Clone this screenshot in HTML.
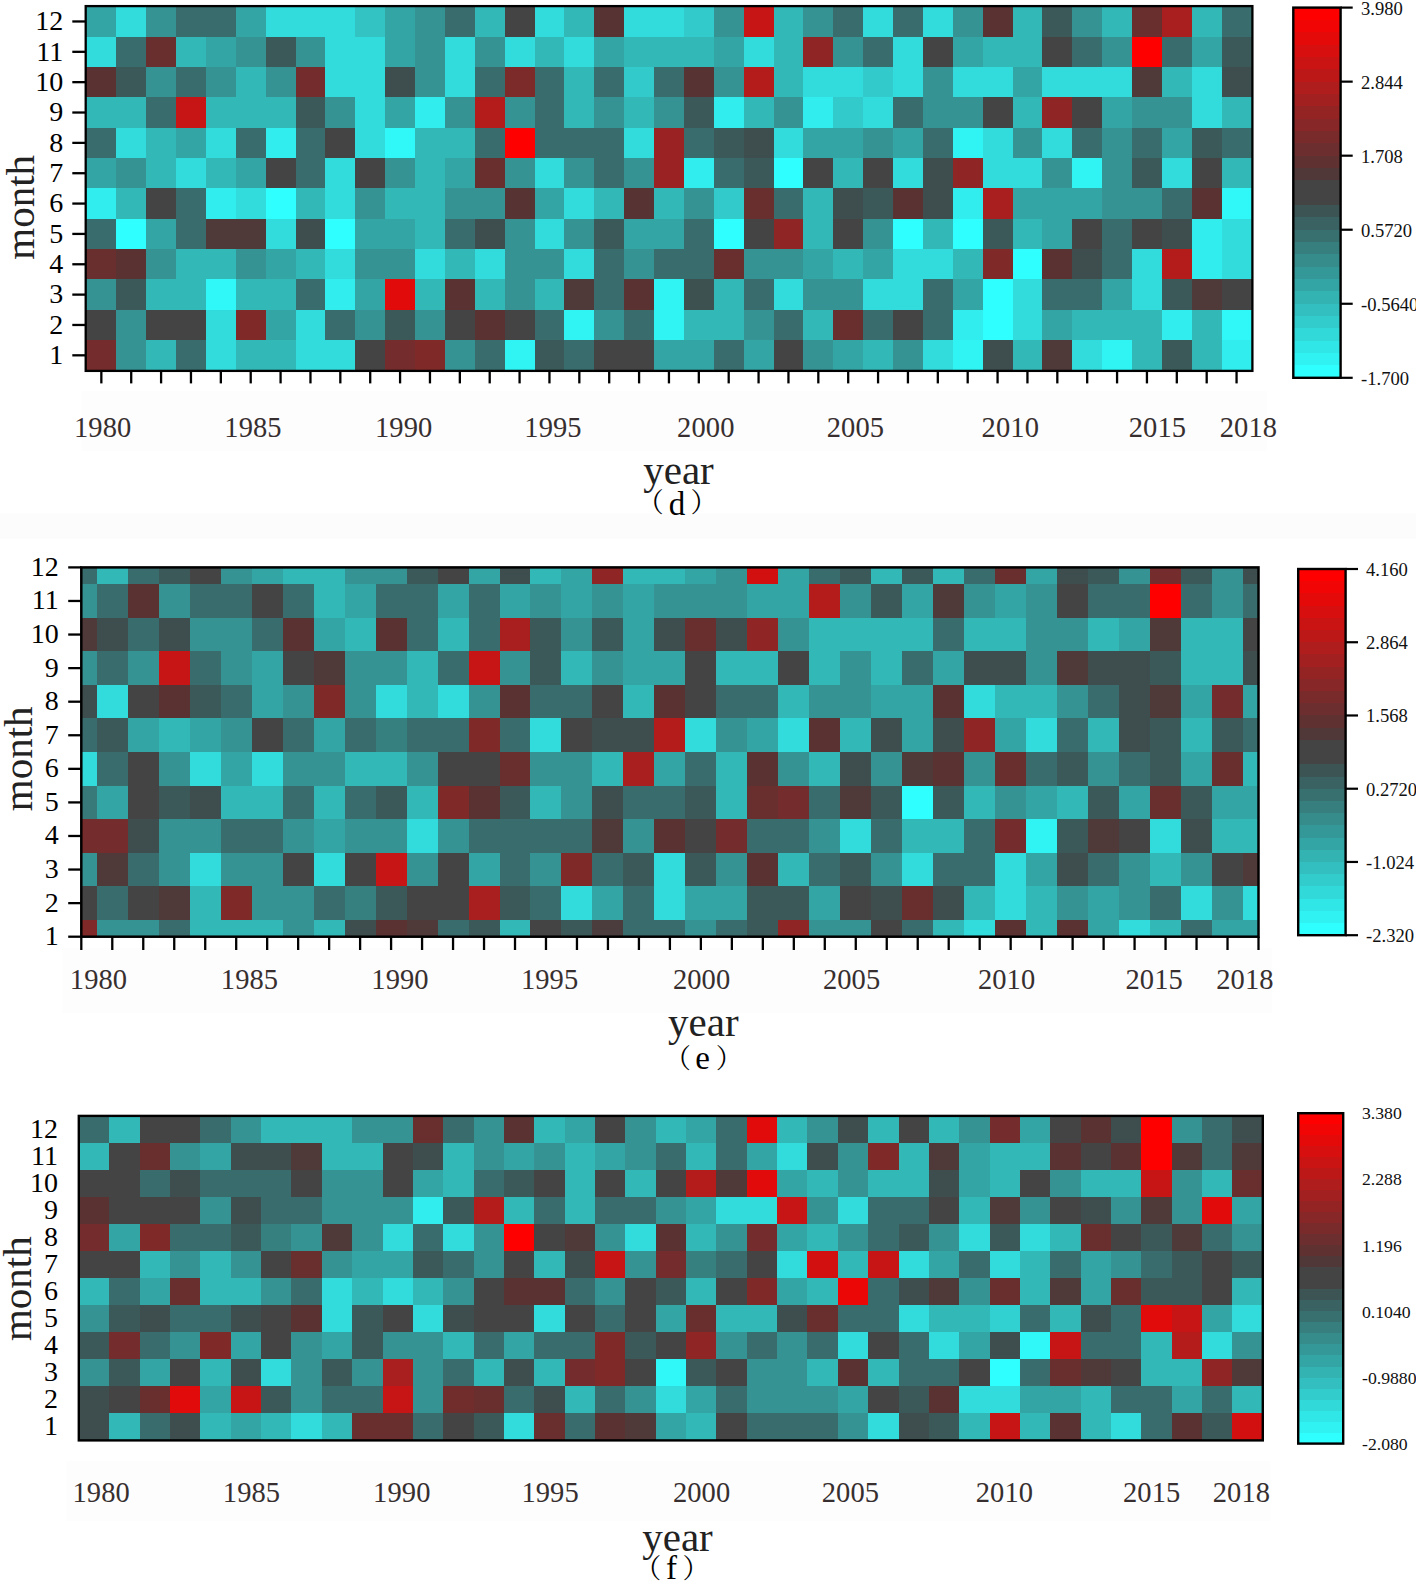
<!DOCTYPE html>
<html><head><meta charset="utf-8"><title>heatmaps</title>
<style>
html,body{margin:0;padding:0;background:#fff;}
svg{display:block}
text{font-family:"Liberation Serif","Noto Serif CJK SC",serif;}
.yt{font-size:28px;fill:#000;text-anchor:end}
.yte{font-size:28px;fill:#000;text-anchor:end}
.ytf{font-size:28px;fill:#000;text-anchor:end}
.xt{font-size:28.5px;fill:#372f2f;text-anchor:middle;letter-spacing:0.1px}
.ax{font-size:41px;fill:#222}
.cap{font-size:33px;fill:#000}
.par{font-size:27px;fill:#000}
.cb{font-size:18.6px;fill:#111}
.cbf{font-size:17.7px;fill:#111}
</style></head><body>
<svg width="1416" height="1582" viewBox="0 0 1416 1582">
<rect width="1416" height="1582" fill="#fff"/>

<rect x="82" y="391" width="1185" height="60" fill="#fdfdfd"/>
<rect x="62" y="948" width="1210" height="65" fill="#fdfdfd"/>
<rect x="66.6" y="1461" width="1203.4" height="60" fill="#fdfdfd"/>
<rect x="0" y="513.5" width="1416" height="25.5" fill="#fcfcfc"/>
<g shape-rendering="crispEdges">
<rect x="86.4" y="6.3" width="30.47" height="30.95" fill="#34a5a5"/>
<rect x="116.27" y="6.3" width="30.47" height="30.95" fill="#32dcdc"/>
<rect x="146.15" y="6.3" width="30.47" height="30.95" fill="#359393"/>
<rect x="176.02" y="6.3" width="30.47" height="30.95" fill="#396d6d"/>
<rect x="205.9" y="6.3" width="30.47" height="30.95" fill="#396d6d"/>
<rect x="235.77" y="6.3" width="30.47" height="30.95" fill="#34a5a5"/>
<rect x="265.65" y="6.3" width="30.47" height="30.95" fill="#32dcdc"/>
<rect x="295.52" y="6.3" width="30.47" height="30.95" fill="#32dcdc"/>
<rect x="325.39" y="6.3" width="30.47" height="30.95" fill="#32dcdc"/>
<rect x="355.27" y="6.3" width="30.47" height="30.95" fill="#33c3c3"/>
<rect x="385.14" y="6.3" width="30.47" height="30.95" fill="#34a5a5"/>
<rect x="415.02" y="6.3" width="30.47" height="30.95" fill="#359393"/>
<rect x="444.89" y="6.3" width="30.47" height="30.95" fill="#396d6d"/>
<rect x="474.77" y="6.3" width="30.47" height="30.95" fill="#33b8b8"/>
<rect x="504.64" y="6.3" width="30.47" height="30.95" fill="#444444"/>
<rect x="534.52" y="6.3" width="30.47" height="30.95" fill="#32dcdc"/>
<rect x="564.39" y="6.3" width="30.47" height="30.95" fill="#33b8b8"/>
<rect x="594.26" y="6.3" width="30.47" height="30.95" fill="#573333"/>
<rect x="624.14" y="6.3" width="30.47" height="30.95" fill="#32dcdc"/>
<rect x="654.01" y="6.3" width="30.47" height="30.95" fill="#32dcdc"/>
<rect x="683.89" y="6.3" width="30.47" height="30.95" fill="#32caca"/>
<rect x="713.76" y="6.3" width="30.47" height="30.95" fill="#359393"/>
<rect x="743.64" y="6.3" width="30.47" height="30.95" fill="#c71414"/>
<rect x="773.51" y="6.3" width="30.47" height="30.95" fill="#33b8b8"/>
<rect x="803.38" y="6.3" width="30.47" height="30.95" fill="#359393"/>
<rect x="833.26" y="6.3" width="30.47" height="30.95" fill="#396d6d"/>
<rect x="863.13" y="6.3" width="30.47" height="30.95" fill="#32dcdc"/>
<rect x="893.01" y="6.3" width="30.47" height="30.95" fill="#396d6d"/>
<rect x="922.88" y="6.3" width="30.47" height="30.95" fill="#32dcdc"/>
<rect x="952.76" y="6.3" width="30.47" height="30.95" fill="#359393"/>
<rect x="982.63" y="6.3" width="30.47" height="30.95" fill="#5a3232"/>
<rect x="1012.51" y="6.3" width="30.47" height="30.95" fill="#33b8b8"/>
<rect x="1042.38" y="6.3" width="30.47" height="30.95" fill="#3b5959"/>
<rect x="1072.25" y="6.3" width="30.47" height="30.95" fill="#359393"/>
<rect x="1102.13" y="6.3" width="30.47" height="30.95" fill="#33b8b8"/>
<rect x="1132" y="6.3" width="30.47" height="30.95" fill="#692e2e"/>
<rect x="1161.88" y="6.3" width="30.47" height="30.95" fill="#a91e1e"/>
<rect x="1191.75" y="6.3" width="30.47" height="30.95" fill="#33b8b8"/>
<rect x="1221.63" y="6.3" width="30.47" height="30.95" fill="#396d6d"/>
<rect x="86.4" y="36.65" width="30.47" height="30.95" fill="#32dcdc"/>
<rect x="116.27" y="36.65" width="30.47" height="30.95" fill="#396d6d"/>
<rect x="146.15" y="36.65" width="30.47" height="30.95" fill="#692e2e"/>
<rect x="176.02" y="36.65" width="30.47" height="30.95" fill="#33b8b8"/>
<rect x="205.9" y="36.65" width="30.47" height="30.95" fill="#34a5a5"/>
<rect x="235.77" y="36.65" width="30.47" height="30.95" fill="#359393"/>
<rect x="265.65" y="36.65" width="30.47" height="30.95" fill="#3b5959"/>
<rect x="295.52" y="36.65" width="30.47" height="30.95" fill="#359393"/>
<rect x="325.39" y="36.65" width="30.47" height="30.95" fill="#32dcdc"/>
<rect x="355.27" y="36.65" width="30.47" height="30.95" fill="#32dcdc"/>
<rect x="385.14" y="36.65" width="30.47" height="30.95" fill="#34a5a5"/>
<rect x="415.02" y="36.65" width="30.47" height="30.95" fill="#359393"/>
<rect x="444.89" y="36.65" width="30.47" height="30.95" fill="#32dcdc"/>
<rect x="474.77" y="36.65" width="30.47" height="30.95" fill="#359393"/>
<rect x="504.64" y="36.65" width="30.47" height="30.95" fill="#32dcdc"/>
<rect x="534.52" y="36.65" width="30.47" height="30.95" fill="#33b8b8"/>
<rect x="564.39" y="36.65" width="30.47" height="30.95" fill="#32dcdc"/>
<rect x="594.26" y="36.65" width="30.47" height="30.95" fill="#34a5a5"/>
<rect x="624.14" y="36.65" width="30.47" height="30.95" fill="#33b8b8"/>
<rect x="654.01" y="36.65" width="30.47" height="30.95" fill="#33b8b8"/>
<rect x="683.89" y="36.65" width="30.47" height="30.95" fill="#33b8b8"/>
<rect x="713.76" y="36.65" width="30.47" height="30.95" fill="#34a5a5"/>
<rect x="743.64" y="36.65" width="30.47" height="30.95" fill="#32dcdc"/>
<rect x="773.51" y="36.65" width="30.47" height="30.95" fill="#33b8b8"/>
<rect x="803.38" y="36.65" width="30.47" height="30.95" fill="#8f2525"/>
<rect x="833.26" y="36.65" width="30.47" height="30.95" fill="#359393"/>
<rect x="863.13" y="36.65" width="30.47" height="30.95" fill="#396d6d"/>
<rect x="893.01" y="36.65" width="30.47" height="30.95" fill="#32dcdc"/>
<rect x="922.88" y="36.65" width="30.47" height="30.95" fill="#444444"/>
<rect x="952.76" y="36.65" width="30.47" height="30.95" fill="#34a5a5"/>
<rect x="982.63" y="36.65" width="30.47" height="30.95" fill="#33b8b8"/>
<rect x="1012.51" y="36.65" width="30.47" height="30.95" fill="#33b8b8"/>
<rect x="1042.38" y="36.65" width="30.47" height="30.95" fill="#444444"/>
<rect x="1072.25" y="36.65" width="30.47" height="30.95" fill="#396d6d"/>
<rect x="1102.13" y="36.65" width="30.47" height="30.95" fill="#359393"/>
<rect x="1132" y="36.65" width="30.47" height="30.95" fill="#ff0000"/>
<rect x="1161.88" y="36.65" width="30.47" height="30.95" fill="#396d6d"/>
<rect x="1191.75" y="36.65" width="30.47" height="30.95" fill="#34a5a5"/>
<rect x="1221.63" y="36.65" width="30.47" height="30.95" fill="#3b5959"/>
<rect x="86.4" y="67" width="30.47" height="30.95" fill="#5a3232"/>
<rect x="116.27" y="67" width="30.47" height="30.95" fill="#3b5959"/>
<rect x="146.15" y="67" width="30.47" height="30.95" fill="#359393"/>
<rect x="176.02" y="67" width="30.47" height="30.95" fill="#396d6d"/>
<rect x="205.9" y="67" width="30.47" height="30.95" fill="#359393"/>
<rect x="235.77" y="67" width="30.47" height="30.95" fill="#33b8b8"/>
<rect x="265.65" y="67" width="30.47" height="30.95" fill="#359393"/>
<rect x="295.52" y="67" width="30.47" height="30.95" fill="#752c2c"/>
<rect x="325.39" y="67" width="30.47" height="30.95" fill="#32dcdc"/>
<rect x="355.27" y="67" width="30.47" height="30.95" fill="#32dcdc"/>
<rect x="385.14" y="67" width="30.47" height="30.95" fill="#3e4d4d"/>
<rect x="415.02" y="67" width="30.47" height="30.95" fill="#359393"/>
<rect x="444.89" y="67" width="30.47" height="30.95" fill="#32dcdc"/>
<rect x="474.77" y="67" width="30.47" height="30.95" fill="#396d6d"/>
<rect x="504.64" y="67" width="30.47" height="30.95" fill="#7c2a2a"/>
<rect x="534.52" y="67" width="30.47" height="30.95" fill="#396d6d"/>
<rect x="564.39" y="67" width="30.47" height="30.95" fill="#33b8b8"/>
<rect x="594.26" y="67" width="30.47" height="30.95" fill="#396d6d"/>
<rect x="624.14" y="67" width="30.47" height="30.95" fill="#32caca"/>
<rect x="654.01" y="67" width="30.47" height="30.95" fill="#396d6d"/>
<rect x="683.89" y="67" width="30.47" height="30.95" fill="#573333"/>
<rect x="713.76" y="67" width="30.47" height="30.95" fill="#359393"/>
<rect x="743.64" y="67" width="30.47" height="30.95" fill="#b41b1b"/>
<rect x="773.51" y="67" width="30.47" height="30.95" fill="#33b8b8"/>
<rect x="803.38" y="67" width="30.47" height="30.95" fill="#32dcdc"/>
<rect x="833.26" y="67" width="30.47" height="30.95" fill="#32dcdc"/>
<rect x="863.13" y="67" width="30.47" height="30.95" fill="#32caca"/>
<rect x="893.01" y="67" width="30.47" height="30.95" fill="#32dcdc"/>
<rect x="922.88" y="67" width="30.47" height="30.95" fill="#359393"/>
<rect x="952.76" y="67" width="30.47" height="30.95" fill="#32dcdc"/>
<rect x="982.63" y="67" width="30.47" height="30.95" fill="#32dcdc"/>
<rect x="1012.51" y="67" width="30.47" height="30.95" fill="#34a5a5"/>
<rect x="1042.38" y="67" width="30.47" height="30.95" fill="#32dcdc"/>
<rect x="1072.25" y="67" width="30.47" height="30.95" fill="#32dcdc"/>
<rect x="1102.13" y="67" width="30.47" height="30.95" fill="#32dcdc"/>
<rect x="1132" y="67" width="30.47" height="30.95" fill="#4f3939"/>
<rect x="1161.88" y="67" width="30.47" height="30.95" fill="#33b8b8"/>
<rect x="1191.75" y="67" width="30.47" height="30.95" fill="#32dcdc"/>
<rect x="1221.63" y="67" width="30.47" height="30.95" fill="#3e4d4d"/>
<rect x="86.4" y="97.35" width="30.47" height="30.95" fill="#33b8b8"/>
<rect x="116.27" y="97.35" width="30.47" height="30.95" fill="#33b8b8"/>
<rect x="146.15" y="97.35" width="30.47" height="30.95" fill="#396d6d"/>
<rect x="176.02" y="97.35" width="30.47" height="30.95" fill="#c71414"/>
<rect x="205.9" y="97.35" width="30.47" height="30.95" fill="#33b8b8"/>
<rect x="235.77" y="97.35" width="30.47" height="30.95" fill="#33b8b8"/>
<rect x="265.65" y="97.35" width="30.47" height="30.95" fill="#33b8b8"/>
<rect x="295.52" y="97.35" width="30.47" height="30.95" fill="#3b5959"/>
<rect x="325.39" y="97.35" width="30.47" height="30.95" fill="#359393"/>
<rect x="355.27" y="97.35" width="30.47" height="30.95" fill="#32dcdc"/>
<rect x="385.14" y="97.35" width="30.47" height="30.95" fill="#34a5a5"/>
<rect x="415.02" y="97.35" width="30.47" height="30.95" fill="#31eded"/>
<rect x="444.89" y="97.35" width="30.47" height="30.95" fill="#359393"/>
<rect x="474.77" y="97.35" width="30.47" height="30.95" fill="#b41b1b"/>
<rect x="504.64" y="97.35" width="30.47" height="30.95" fill="#359393"/>
<rect x="534.52" y="97.35" width="30.47" height="30.95" fill="#396d6d"/>
<rect x="564.39" y="97.35" width="30.47" height="30.95" fill="#33b8b8"/>
<rect x="594.26" y="97.35" width="30.47" height="30.95" fill="#359393"/>
<rect x="624.14" y="97.35" width="30.47" height="30.95" fill="#33b8b8"/>
<rect x="654.01" y="97.35" width="30.47" height="30.95" fill="#359393"/>
<rect x="683.89" y="97.35" width="30.47" height="30.95" fill="#3b5959"/>
<rect x="713.76" y="97.35" width="30.47" height="30.95" fill="#31eded"/>
<rect x="743.64" y="97.35" width="30.47" height="30.95" fill="#33b8b8"/>
<rect x="773.51" y="97.35" width="30.47" height="30.95" fill="#359393"/>
<rect x="803.38" y="97.35" width="30.47" height="30.95" fill="#31eded"/>
<rect x="833.26" y="97.35" width="30.47" height="30.95" fill="#32caca"/>
<rect x="863.13" y="97.35" width="30.47" height="30.95" fill="#32dcdc"/>
<rect x="893.01" y="97.35" width="30.47" height="30.95" fill="#396d6d"/>
<rect x="922.88" y="97.35" width="30.47" height="30.95" fill="#359393"/>
<rect x="952.76" y="97.35" width="30.47" height="30.95" fill="#359393"/>
<rect x="982.63" y="97.35" width="30.47" height="30.95" fill="#444444"/>
<rect x="1012.51" y="97.35" width="30.47" height="30.95" fill="#33b8b8"/>
<rect x="1042.38" y="97.35" width="30.47" height="30.95" fill="#8f2525"/>
<rect x="1072.25" y="97.35" width="30.47" height="30.95" fill="#444444"/>
<rect x="1102.13" y="97.35" width="30.47" height="30.95" fill="#34a5a5"/>
<rect x="1132" y="97.35" width="30.47" height="30.95" fill="#359393"/>
<rect x="1161.88" y="97.35" width="30.47" height="30.95" fill="#359393"/>
<rect x="1191.75" y="97.35" width="30.47" height="30.95" fill="#32dcdc"/>
<rect x="1221.63" y="97.35" width="30.47" height="30.95" fill="#33b8b8"/>
<rect x="86.4" y="127.7" width="30.47" height="30.95" fill="#396d6d"/>
<rect x="116.27" y="127.7" width="30.47" height="30.95" fill="#32dcdc"/>
<rect x="146.15" y="127.7" width="30.47" height="30.95" fill="#33b8b8"/>
<rect x="176.02" y="127.7" width="30.47" height="30.95" fill="#34a5a5"/>
<rect x="205.9" y="127.7" width="30.47" height="30.95" fill="#32dcdc"/>
<rect x="235.77" y="127.7" width="30.47" height="30.95" fill="#396d6d"/>
<rect x="265.65" y="127.7" width="30.47" height="30.95" fill="#31eded"/>
<rect x="295.52" y="127.7" width="30.47" height="30.95" fill="#396d6d"/>
<rect x="325.39" y="127.7" width="30.47" height="30.95" fill="#444444"/>
<rect x="355.27" y="127.7" width="30.47" height="30.95" fill="#32dcdc"/>
<rect x="385.14" y="127.7" width="30.47" height="30.95" fill="#30f8f8"/>
<rect x="415.02" y="127.7" width="30.47" height="30.95" fill="#33b8b8"/>
<rect x="444.89" y="127.7" width="30.47" height="30.95" fill="#33b8b8"/>
<rect x="474.77" y="127.7" width="30.47" height="30.95" fill="#396d6d"/>
<rect x="504.64" y="127.7" width="30.47" height="30.95" fill="#ff0000"/>
<rect x="534.52" y="127.7" width="30.47" height="30.95" fill="#396d6d"/>
<rect x="564.39" y="127.7" width="30.47" height="30.95" fill="#396d6d"/>
<rect x="594.26" y="127.7" width="30.47" height="30.95" fill="#396d6d"/>
<rect x="624.14" y="127.7" width="30.47" height="30.95" fill="#32dcdc"/>
<rect x="654.01" y="127.7" width="30.47" height="30.95" fill="#9a2222"/>
<rect x="683.89" y="127.7" width="30.47" height="30.95" fill="#396d6d"/>
<rect x="713.76" y="127.7" width="30.47" height="30.95" fill="#3b5959"/>
<rect x="743.64" y="127.7" width="30.47" height="30.95" fill="#3e4d4d"/>
<rect x="773.51" y="127.7" width="30.47" height="30.95" fill="#32dcdc"/>
<rect x="803.38" y="127.7" width="30.47" height="30.95" fill="#34a5a5"/>
<rect x="833.26" y="127.7" width="30.47" height="30.95" fill="#34a5a5"/>
<rect x="863.13" y="127.7" width="30.47" height="30.95" fill="#359393"/>
<rect x="893.01" y="127.7" width="30.47" height="30.95" fill="#34a5a5"/>
<rect x="922.88" y="127.7" width="30.47" height="30.95" fill="#396d6d"/>
<rect x="952.76" y="127.7" width="30.47" height="30.95" fill="#30f4f4"/>
<rect x="982.63" y="127.7" width="30.47" height="30.95" fill="#32dcdc"/>
<rect x="1012.51" y="127.7" width="30.47" height="30.95" fill="#359393"/>
<rect x="1042.38" y="127.7" width="30.47" height="30.95" fill="#32dcdc"/>
<rect x="1072.25" y="127.7" width="30.47" height="30.95" fill="#396d6d"/>
<rect x="1102.13" y="127.7" width="30.47" height="30.95" fill="#359393"/>
<rect x="1132" y="127.7" width="30.47" height="30.95" fill="#396d6d"/>
<rect x="1161.88" y="127.7" width="30.47" height="30.95" fill="#34a5a5"/>
<rect x="1191.75" y="127.7" width="30.47" height="30.95" fill="#3b5959"/>
<rect x="1221.63" y="127.7" width="30.47" height="30.95" fill="#396d6d"/>
<rect x="86.4" y="158.05" width="30.47" height="30.95" fill="#34a5a5"/>
<rect x="116.27" y="158.05" width="30.47" height="30.95" fill="#359393"/>
<rect x="146.15" y="158.05" width="30.47" height="30.95" fill="#33b8b8"/>
<rect x="176.02" y="158.05" width="30.47" height="30.95" fill="#32dcdc"/>
<rect x="205.9" y="158.05" width="30.47" height="30.95" fill="#33b8b8"/>
<rect x="235.77" y="158.05" width="30.47" height="30.95" fill="#34a5a5"/>
<rect x="265.65" y="158.05" width="30.47" height="30.95" fill="#444444"/>
<rect x="295.52" y="158.05" width="30.47" height="30.95" fill="#396d6d"/>
<rect x="325.39" y="158.05" width="30.47" height="30.95" fill="#32dcdc"/>
<rect x="355.27" y="158.05" width="30.47" height="30.95" fill="#444444"/>
<rect x="385.14" y="158.05" width="30.47" height="30.95" fill="#359393"/>
<rect x="415.02" y="158.05" width="30.47" height="30.95" fill="#33b8b8"/>
<rect x="444.89" y="158.05" width="30.47" height="30.95" fill="#34a5a5"/>
<rect x="474.77" y="158.05" width="30.47" height="30.95" fill="#692e2e"/>
<rect x="504.64" y="158.05" width="30.47" height="30.95" fill="#359393"/>
<rect x="534.52" y="158.05" width="30.47" height="30.95" fill="#32dcdc"/>
<rect x="564.39" y="158.05" width="30.47" height="30.95" fill="#359393"/>
<rect x="594.26" y="158.05" width="30.47" height="30.95" fill="#396d6d"/>
<rect x="624.14" y="158.05" width="30.47" height="30.95" fill="#359393"/>
<rect x="654.01" y="158.05" width="30.47" height="30.95" fill="#9a2222"/>
<rect x="683.89" y="158.05" width="30.47" height="30.95" fill="#31eded"/>
<rect x="713.76" y="158.05" width="30.47" height="30.95" fill="#396d6d"/>
<rect x="743.64" y="158.05" width="30.47" height="30.95" fill="#3b5959"/>
<rect x="773.51" y="158.05" width="30.47" height="30.95" fill="#30ffff"/>
<rect x="803.38" y="158.05" width="30.47" height="30.95" fill="#444444"/>
<rect x="833.26" y="158.05" width="30.47" height="30.95" fill="#33b8b8"/>
<rect x="863.13" y="158.05" width="30.47" height="30.95" fill="#444444"/>
<rect x="893.01" y="158.05" width="30.47" height="30.95" fill="#32dcdc"/>
<rect x="922.88" y="158.05" width="30.47" height="30.95" fill="#3e4d4d"/>
<rect x="952.76" y="158.05" width="30.47" height="30.95" fill="#8f2525"/>
<rect x="982.63" y="158.05" width="30.47" height="30.95" fill="#32dcdc"/>
<rect x="1012.51" y="158.05" width="30.47" height="30.95" fill="#32dcdc"/>
<rect x="1042.38" y="158.05" width="30.47" height="30.95" fill="#359393"/>
<rect x="1072.25" y="158.05" width="30.47" height="30.95" fill="#30f4f4"/>
<rect x="1102.13" y="158.05" width="30.47" height="30.95" fill="#359393"/>
<rect x="1132" y="158.05" width="30.47" height="30.95" fill="#3b5959"/>
<rect x="1161.88" y="158.05" width="30.47" height="30.95" fill="#32dcdc"/>
<rect x="1191.75" y="158.05" width="30.47" height="30.95" fill="#444444"/>
<rect x="1221.63" y="158.05" width="30.47" height="30.95" fill="#33b8b8"/>
<rect x="86.4" y="188.4" width="30.47" height="30.95" fill="#31eded"/>
<rect x="116.27" y="188.4" width="30.47" height="30.95" fill="#33b8b8"/>
<rect x="146.15" y="188.4" width="30.47" height="30.95" fill="#444444"/>
<rect x="176.02" y="188.4" width="30.47" height="30.95" fill="#396d6d"/>
<rect x="205.9" y="188.4" width="30.47" height="30.95" fill="#31eded"/>
<rect x="235.77" y="188.4" width="30.47" height="30.95" fill="#32dcdc"/>
<rect x="265.65" y="188.4" width="30.47" height="30.95" fill="#30ffff"/>
<rect x="295.52" y="188.4" width="30.47" height="30.95" fill="#33b8b8"/>
<rect x="325.39" y="188.4" width="30.47" height="30.95" fill="#32dcdc"/>
<rect x="355.27" y="188.4" width="30.47" height="30.95" fill="#359393"/>
<rect x="385.14" y="188.4" width="30.47" height="30.95" fill="#33b8b8"/>
<rect x="415.02" y="188.4" width="30.47" height="30.95" fill="#33b8b8"/>
<rect x="444.89" y="188.4" width="30.47" height="30.95" fill="#359393"/>
<rect x="474.77" y="188.4" width="30.47" height="30.95" fill="#359393"/>
<rect x="504.64" y="188.4" width="30.47" height="30.95" fill="#573333"/>
<rect x="534.52" y="188.4" width="30.47" height="30.95" fill="#34a5a5"/>
<rect x="564.39" y="188.4" width="30.47" height="30.95" fill="#32dcdc"/>
<rect x="594.26" y="188.4" width="30.47" height="30.95" fill="#33b8b8"/>
<rect x="624.14" y="188.4" width="30.47" height="30.95" fill="#573333"/>
<rect x="654.01" y="188.4" width="30.47" height="30.95" fill="#33b8b8"/>
<rect x="683.89" y="188.4" width="30.47" height="30.95" fill="#359393"/>
<rect x="713.76" y="188.4" width="30.47" height="30.95" fill="#32caca"/>
<rect x="743.64" y="188.4" width="30.47" height="30.95" fill="#692e2e"/>
<rect x="773.51" y="188.4" width="30.47" height="30.95" fill="#396d6d"/>
<rect x="803.38" y="188.4" width="30.47" height="30.95" fill="#33b8b8"/>
<rect x="833.26" y="188.4" width="30.47" height="30.95" fill="#3e4d4d"/>
<rect x="863.13" y="188.4" width="30.47" height="30.95" fill="#3b5959"/>
<rect x="893.01" y="188.4" width="30.47" height="30.95" fill="#5a3232"/>
<rect x="922.88" y="188.4" width="30.47" height="30.95" fill="#3e4d4d"/>
<rect x="952.76" y="188.4" width="30.47" height="30.95" fill="#31eded"/>
<rect x="982.63" y="188.4" width="30.47" height="30.95" fill="#a91e1e"/>
<rect x="1012.51" y="188.4" width="30.47" height="30.95" fill="#34a5a5"/>
<rect x="1042.38" y="188.4" width="30.47" height="30.95" fill="#34a5a5"/>
<rect x="1072.25" y="188.4" width="30.47" height="30.95" fill="#34a5a5"/>
<rect x="1102.13" y="188.4" width="30.47" height="30.95" fill="#359393"/>
<rect x="1132" y="188.4" width="30.47" height="30.95" fill="#359393"/>
<rect x="1161.88" y="188.4" width="30.47" height="30.95" fill="#396d6d"/>
<rect x="1191.75" y="188.4" width="30.47" height="30.95" fill="#5a3232"/>
<rect x="1221.63" y="188.4" width="30.47" height="30.95" fill="#30f8f8"/>
<rect x="86.4" y="218.75" width="30.47" height="30.95" fill="#396d6d"/>
<rect x="116.27" y="218.75" width="30.47" height="30.95" fill="#30ffff"/>
<rect x="146.15" y="218.75" width="30.47" height="30.95" fill="#34a5a5"/>
<rect x="176.02" y="218.75" width="30.47" height="30.95" fill="#396d6d"/>
<rect x="205.9" y="218.75" width="30.47" height="30.95" fill="#4f3939"/>
<rect x="235.77" y="218.75" width="30.47" height="30.95" fill="#4f3939"/>
<rect x="265.65" y="218.75" width="30.47" height="30.95" fill="#32dcdc"/>
<rect x="295.52" y="218.75" width="30.47" height="30.95" fill="#3e4d4d"/>
<rect x="325.39" y="218.75" width="30.47" height="30.95" fill="#30ffff"/>
<rect x="355.27" y="218.75" width="30.47" height="30.95" fill="#34a5a5"/>
<rect x="385.14" y="218.75" width="30.47" height="30.95" fill="#34a5a5"/>
<rect x="415.02" y="218.75" width="30.47" height="30.95" fill="#33b8b8"/>
<rect x="444.89" y="218.75" width="30.47" height="30.95" fill="#396d6d"/>
<rect x="474.77" y="218.75" width="30.47" height="30.95" fill="#3e4d4d"/>
<rect x="504.64" y="218.75" width="30.47" height="30.95" fill="#359393"/>
<rect x="534.52" y="218.75" width="30.47" height="30.95" fill="#32dcdc"/>
<rect x="564.39" y="218.75" width="30.47" height="30.95" fill="#359393"/>
<rect x="594.26" y="218.75" width="30.47" height="30.95" fill="#3b5959"/>
<rect x="624.14" y="218.75" width="30.47" height="30.95" fill="#34a5a5"/>
<rect x="654.01" y="218.75" width="30.47" height="30.95" fill="#34a5a5"/>
<rect x="683.89" y="218.75" width="30.47" height="30.95" fill="#396d6d"/>
<rect x="713.76" y="218.75" width="30.47" height="30.95" fill="#30ffff"/>
<rect x="743.64" y="218.75" width="30.47" height="30.95" fill="#444444"/>
<rect x="773.51" y="218.75" width="30.47" height="30.95" fill="#8f2525"/>
<rect x="803.38" y="218.75" width="30.47" height="30.95" fill="#33b8b8"/>
<rect x="833.26" y="218.75" width="30.47" height="30.95" fill="#444444"/>
<rect x="863.13" y="218.75" width="30.47" height="30.95" fill="#359393"/>
<rect x="893.01" y="218.75" width="30.47" height="30.95" fill="#30ffff"/>
<rect x="922.88" y="218.75" width="30.47" height="30.95" fill="#33b8b8"/>
<rect x="952.76" y="218.75" width="30.47" height="30.95" fill="#30ffff"/>
<rect x="982.63" y="218.75" width="30.47" height="30.95" fill="#3b5959"/>
<rect x="1012.51" y="218.75" width="30.47" height="30.95" fill="#33b8b8"/>
<rect x="1042.38" y="218.75" width="30.47" height="30.95" fill="#34a5a5"/>
<rect x="1072.25" y="218.75" width="30.47" height="30.95" fill="#444444"/>
<rect x="1102.13" y="218.75" width="30.47" height="30.95" fill="#396d6d"/>
<rect x="1132" y="218.75" width="30.47" height="30.95" fill="#444444"/>
<rect x="1161.88" y="218.75" width="30.47" height="30.95" fill="#3e4d4d"/>
<rect x="1191.75" y="218.75" width="30.47" height="30.95" fill="#31eded"/>
<rect x="1221.63" y="218.75" width="30.47" height="30.95" fill="#32dcdc"/>
<rect x="86.4" y="249.1" width="30.47" height="30.95" fill="#692e2e"/>
<rect x="116.27" y="249.1" width="30.47" height="30.95" fill="#5a3232"/>
<rect x="146.15" y="249.1" width="30.47" height="30.95" fill="#359393"/>
<rect x="176.02" y="249.1" width="30.47" height="30.95" fill="#33b8b8"/>
<rect x="205.9" y="249.1" width="30.47" height="30.95" fill="#33b8b8"/>
<rect x="235.77" y="249.1" width="30.47" height="30.95" fill="#359393"/>
<rect x="265.65" y="249.1" width="30.47" height="30.95" fill="#34a5a5"/>
<rect x="295.52" y="249.1" width="30.47" height="30.95" fill="#33b8b8"/>
<rect x="325.39" y="249.1" width="30.47" height="30.95" fill="#32dcdc"/>
<rect x="355.27" y="249.1" width="30.47" height="30.95" fill="#359393"/>
<rect x="385.14" y="249.1" width="30.47" height="30.95" fill="#359393"/>
<rect x="415.02" y="249.1" width="30.47" height="30.95" fill="#32dcdc"/>
<rect x="444.89" y="249.1" width="30.47" height="30.95" fill="#33b8b8"/>
<rect x="474.77" y="249.1" width="30.47" height="30.95" fill="#32dcdc"/>
<rect x="504.64" y="249.1" width="30.47" height="30.95" fill="#359393"/>
<rect x="534.52" y="249.1" width="30.47" height="30.95" fill="#359393"/>
<rect x="564.39" y="249.1" width="30.47" height="30.95" fill="#32dcdc"/>
<rect x="594.26" y="249.1" width="30.47" height="30.95" fill="#396d6d"/>
<rect x="624.14" y="249.1" width="30.47" height="30.95" fill="#359393"/>
<rect x="654.01" y="249.1" width="30.47" height="30.95" fill="#396d6d"/>
<rect x="683.89" y="249.1" width="30.47" height="30.95" fill="#396d6d"/>
<rect x="713.76" y="249.1" width="30.47" height="30.95" fill="#692e2e"/>
<rect x="743.64" y="249.1" width="30.47" height="30.95" fill="#359393"/>
<rect x="773.51" y="249.1" width="30.47" height="30.95" fill="#359393"/>
<rect x="803.38" y="249.1" width="30.47" height="30.95" fill="#34a5a5"/>
<rect x="833.26" y="249.1" width="30.47" height="30.95" fill="#33b8b8"/>
<rect x="863.13" y="249.1" width="30.47" height="30.95" fill="#34a5a5"/>
<rect x="893.01" y="249.1" width="30.47" height="30.95" fill="#32dcdc"/>
<rect x="922.88" y="249.1" width="30.47" height="30.95" fill="#32dcdc"/>
<rect x="952.76" y="249.1" width="30.47" height="30.95" fill="#33b8b8"/>
<rect x="982.63" y="249.1" width="30.47" height="30.95" fill="#802929"/>
<rect x="1012.51" y="249.1" width="30.47" height="30.95" fill="#30ffff"/>
<rect x="1042.38" y="249.1" width="30.47" height="30.95" fill="#5a3232"/>
<rect x="1072.25" y="249.1" width="30.47" height="30.95" fill="#3e4d4d"/>
<rect x="1102.13" y="249.1" width="30.47" height="30.95" fill="#396d6d"/>
<rect x="1132" y="249.1" width="30.47" height="30.95" fill="#32dcdc"/>
<rect x="1161.88" y="249.1" width="30.47" height="30.95" fill="#b41b1b"/>
<rect x="1191.75" y="249.1" width="30.47" height="30.95" fill="#31eded"/>
<rect x="1221.63" y="249.1" width="30.47" height="30.95" fill="#32dcdc"/>
<rect x="86.4" y="279.45" width="30.47" height="30.95" fill="#359393"/>
<rect x="116.27" y="279.45" width="30.47" height="30.95" fill="#3b5959"/>
<rect x="146.15" y="279.45" width="30.47" height="30.95" fill="#33b8b8"/>
<rect x="176.02" y="279.45" width="30.47" height="30.95" fill="#33b8b8"/>
<rect x="205.9" y="279.45" width="30.47" height="30.95" fill="#30f8f8"/>
<rect x="235.77" y="279.45" width="30.47" height="30.95" fill="#33b8b8"/>
<rect x="265.65" y="279.45" width="30.47" height="30.95" fill="#33b8b8"/>
<rect x="295.52" y="279.45" width="30.47" height="30.95" fill="#396d6d"/>
<rect x="325.39" y="279.45" width="30.47" height="30.95" fill="#31eded"/>
<rect x="355.27" y="279.45" width="30.47" height="30.95" fill="#34a5a5"/>
<rect x="385.14" y="279.45" width="30.47" height="30.95" fill="#e10b0b"/>
<rect x="415.02" y="279.45" width="30.47" height="30.95" fill="#33b8b8"/>
<rect x="444.89" y="279.45" width="30.47" height="30.95" fill="#5a3232"/>
<rect x="474.77" y="279.45" width="30.47" height="30.95" fill="#33b8b8"/>
<rect x="504.64" y="279.45" width="30.47" height="30.95" fill="#359393"/>
<rect x="534.52" y="279.45" width="30.47" height="30.95" fill="#33b8b8"/>
<rect x="564.39" y="279.45" width="30.47" height="30.95" fill="#4f3939"/>
<rect x="594.26" y="279.45" width="30.47" height="30.95" fill="#396d6d"/>
<rect x="624.14" y="279.45" width="30.47" height="30.95" fill="#5a3232"/>
<rect x="654.01" y="279.45" width="30.47" height="30.95" fill="#30f4f4"/>
<rect x="683.89" y="279.45" width="30.47" height="30.95" fill="#3d5151"/>
<rect x="713.76" y="279.45" width="30.47" height="30.95" fill="#33b8b8"/>
<rect x="743.64" y="279.45" width="30.47" height="30.95" fill="#396d6d"/>
<rect x="773.51" y="279.45" width="30.47" height="30.95" fill="#32dcdc"/>
<rect x="803.38" y="279.45" width="30.47" height="30.95" fill="#359393"/>
<rect x="833.26" y="279.45" width="30.47" height="30.95" fill="#359393"/>
<rect x="863.13" y="279.45" width="30.47" height="30.95" fill="#32dcdc"/>
<rect x="893.01" y="279.45" width="30.47" height="30.95" fill="#32dcdc"/>
<rect x="922.88" y="279.45" width="30.47" height="30.95" fill="#396d6d"/>
<rect x="952.76" y="279.45" width="30.47" height="30.95" fill="#34a5a5"/>
<rect x="982.63" y="279.45" width="30.47" height="30.95" fill="#30ffff"/>
<rect x="1012.51" y="279.45" width="30.47" height="30.95" fill="#32dcdc"/>
<rect x="1042.38" y="279.45" width="30.47" height="30.95" fill="#396d6d"/>
<rect x="1072.25" y="279.45" width="30.47" height="30.95" fill="#396d6d"/>
<rect x="1102.13" y="279.45" width="30.47" height="30.95" fill="#34a5a5"/>
<rect x="1132" y="279.45" width="30.47" height="30.95" fill="#32dcdc"/>
<rect x="1161.88" y="279.45" width="30.47" height="30.95" fill="#3b5959"/>
<rect x="1191.75" y="279.45" width="30.47" height="30.95" fill="#4f3939"/>
<rect x="1221.63" y="279.45" width="30.47" height="30.95" fill="#444444"/>
<rect x="86.4" y="309.8" width="30.47" height="30.95" fill="#444444"/>
<rect x="116.27" y="309.8" width="30.47" height="30.95" fill="#359393"/>
<rect x="146.15" y="309.8" width="30.47" height="30.95" fill="#444444"/>
<rect x="176.02" y="309.8" width="30.47" height="30.95" fill="#444444"/>
<rect x="205.9" y="309.8" width="30.47" height="30.95" fill="#32dcdc"/>
<rect x="235.77" y="309.8" width="30.47" height="30.95" fill="#802929"/>
<rect x="265.65" y="309.8" width="30.47" height="30.95" fill="#34a5a5"/>
<rect x="295.52" y="309.8" width="30.47" height="30.95" fill="#32dcdc"/>
<rect x="325.39" y="309.8" width="30.47" height="30.95" fill="#396d6d"/>
<rect x="355.27" y="309.8" width="30.47" height="30.95" fill="#359393"/>
<rect x="385.14" y="309.8" width="30.47" height="30.95" fill="#3b5959"/>
<rect x="415.02" y="309.8" width="30.47" height="30.95" fill="#359393"/>
<rect x="444.89" y="309.8" width="30.47" height="30.95" fill="#444444"/>
<rect x="474.77" y="309.8" width="30.47" height="30.95" fill="#5a3232"/>
<rect x="504.64" y="309.8" width="30.47" height="30.95" fill="#444444"/>
<rect x="534.52" y="309.8" width="30.47" height="30.95" fill="#396d6d"/>
<rect x="564.39" y="309.8" width="30.47" height="30.95" fill="#30f4f4"/>
<rect x="594.26" y="309.8" width="30.47" height="30.95" fill="#359393"/>
<rect x="624.14" y="309.8" width="30.47" height="30.95" fill="#396d6d"/>
<rect x="654.01" y="309.8" width="30.47" height="30.95" fill="#30f4f4"/>
<rect x="683.89" y="309.8" width="30.47" height="30.95" fill="#33b8b8"/>
<rect x="713.76" y="309.8" width="30.47" height="30.95" fill="#33b8b8"/>
<rect x="743.64" y="309.8" width="30.47" height="30.95" fill="#359393"/>
<rect x="773.51" y="309.8" width="30.47" height="30.95" fill="#396d6d"/>
<rect x="803.38" y="309.8" width="30.47" height="30.95" fill="#33b8b8"/>
<rect x="833.26" y="309.8" width="30.47" height="30.95" fill="#692e2e"/>
<rect x="863.13" y="309.8" width="30.47" height="30.95" fill="#396d6d"/>
<rect x="893.01" y="309.8" width="30.47" height="30.95" fill="#444444"/>
<rect x="922.88" y="309.8" width="30.47" height="30.95" fill="#396d6d"/>
<rect x="952.76" y="309.8" width="30.47" height="30.95" fill="#31eded"/>
<rect x="982.63" y="309.8" width="30.47" height="30.95" fill="#30ffff"/>
<rect x="1012.51" y="309.8" width="30.47" height="30.95" fill="#32dcdc"/>
<rect x="1042.38" y="309.8" width="30.47" height="30.95" fill="#34a5a5"/>
<rect x="1072.25" y="309.8" width="30.47" height="30.95" fill="#33b8b8"/>
<rect x="1102.13" y="309.8" width="30.47" height="30.95" fill="#33b8b8"/>
<rect x="1132" y="309.8" width="30.47" height="30.95" fill="#33b8b8"/>
<rect x="1161.88" y="309.8" width="30.47" height="30.95" fill="#31eded"/>
<rect x="1191.75" y="309.8" width="30.47" height="30.95" fill="#33b8b8"/>
<rect x="1221.63" y="309.8" width="30.47" height="30.95" fill="#30f8f8"/>
<rect x="86.4" y="340.15" width="30.47" height="30.95" fill="#752c2c"/>
<rect x="116.27" y="340.15" width="30.47" height="30.95" fill="#359393"/>
<rect x="146.15" y="340.15" width="30.47" height="30.95" fill="#33b8b8"/>
<rect x="176.02" y="340.15" width="30.47" height="30.95" fill="#396d6d"/>
<rect x="205.9" y="340.15" width="30.47" height="30.95" fill="#32dcdc"/>
<rect x="235.77" y="340.15" width="30.47" height="30.95" fill="#33b8b8"/>
<rect x="265.65" y="340.15" width="30.47" height="30.95" fill="#33b8b8"/>
<rect x="295.52" y="340.15" width="30.47" height="30.95" fill="#32dcdc"/>
<rect x="325.39" y="340.15" width="30.47" height="30.95" fill="#32dcdc"/>
<rect x="355.27" y="340.15" width="30.47" height="30.95" fill="#444444"/>
<rect x="385.14" y="340.15" width="30.47" height="30.95" fill="#752c2c"/>
<rect x="415.02" y="340.15" width="30.47" height="30.95" fill="#802929"/>
<rect x="444.89" y="340.15" width="30.47" height="30.95" fill="#359393"/>
<rect x="474.77" y="340.15" width="30.47" height="30.95" fill="#396d6d"/>
<rect x="504.64" y="340.15" width="30.47" height="30.95" fill="#30f4f4"/>
<rect x="534.52" y="340.15" width="30.47" height="30.95" fill="#3b5959"/>
<rect x="564.39" y="340.15" width="30.47" height="30.95" fill="#396d6d"/>
<rect x="594.26" y="340.15" width="30.47" height="30.95" fill="#444444"/>
<rect x="624.14" y="340.15" width="30.47" height="30.95" fill="#444444"/>
<rect x="654.01" y="340.15" width="30.47" height="30.95" fill="#34a5a5"/>
<rect x="683.89" y="340.15" width="30.47" height="30.95" fill="#34a5a5"/>
<rect x="713.76" y="340.15" width="30.47" height="30.95" fill="#396d6d"/>
<rect x="743.64" y="340.15" width="30.47" height="30.95" fill="#34a5a5"/>
<rect x="773.51" y="340.15" width="30.47" height="30.95" fill="#444444"/>
<rect x="803.38" y="340.15" width="30.47" height="30.95" fill="#359393"/>
<rect x="833.26" y="340.15" width="30.47" height="30.95" fill="#34a5a5"/>
<rect x="863.13" y="340.15" width="30.47" height="30.95" fill="#33b8b8"/>
<rect x="893.01" y="340.15" width="30.47" height="30.95" fill="#359393"/>
<rect x="922.88" y="340.15" width="30.47" height="30.95" fill="#32dcdc"/>
<rect x="952.76" y="340.15" width="30.47" height="30.95" fill="#30f4f4"/>
<rect x="982.63" y="340.15" width="30.47" height="30.95" fill="#3e4d4d"/>
<rect x="1012.51" y="340.15" width="30.47" height="30.95" fill="#33b8b8"/>
<rect x="1042.38" y="340.15" width="30.47" height="30.95" fill="#4f3939"/>
<rect x="1072.25" y="340.15" width="30.47" height="30.95" fill="#32dcdc"/>
<rect x="1102.13" y="340.15" width="30.47" height="30.95" fill="#30f4f4"/>
<rect x="1132" y="340.15" width="30.47" height="30.95" fill="#33b8b8"/>
<rect x="1161.88" y="340.15" width="30.47" height="30.95" fill="#3b5959"/>
<rect x="1191.75" y="340.15" width="30.47" height="30.95" fill="#33b8b8"/>
<rect x="1221.63" y="340.15" width="30.47" height="30.95" fill="#31eded"/>
</g>
<rect x="85.7" y="6.1" width="1166.7" height="364.8" fill="none" stroke="#000" stroke-width="2.3"/>
<line x1="72.3" y1="21.47" x2="85.4" y2="21.47" stroke="#000" stroke-width="2.3"/>
<text x="63.2" y="30.17" class="yt" >12</text>
<line x1="72.3" y1="51.82" x2="85.4" y2="51.82" stroke="#000" stroke-width="2.3"/>
<text x="63.2" y="60.52" class="yt" >11</text>
<line x1="72.3" y1="82.17" x2="85.4" y2="82.17" stroke="#000" stroke-width="2.3"/>
<text x="63.2" y="90.88" class="yt" >10</text>
<line x1="72.3" y1="112.52" x2="85.4" y2="112.52" stroke="#000" stroke-width="2.3"/>
<text x="63.2" y="121.22" class="yt" >9</text>
<line x1="72.3" y1="142.88" x2="85.4" y2="142.88" stroke="#000" stroke-width="2.3"/>
<text x="63.2" y="151.57" class="yt" >8</text>
<line x1="72.3" y1="173.22" x2="85.4" y2="173.22" stroke="#000" stroke-width="2.3"/>
<text x="63.2" y="181.92" class="yt" >7</text>
<line x1="72.3" y1="203.57" x2="85.4" y2="203.57" stroke="#000" stroke-width="2.3"/>
<text x="63.2" y="212.27" class="yt" >6</text>
<line x1="72.3" y1="233.92" x2="85.4" y2="233.92" stroke="#000" stroke-width="2.3"/>
<text x="63.2" y="242.62" class="yt" >5</text>
<line x1="72.3" y1="264.27" x2="85.4" y2="264.27" stroke="#000" stroke-width="2.3"/>
<text x="63.2" y="272.97" class="yt" >4</text>
<line x1="72.3" y1="294.62" x2="85.4" y2="294.62" stroke="#000" stroke-width="2.3"/>
<text x="63.2" y="303.32" class="yt" >3</text>
<line x1="72.3" y1="324.97" x2="85.4" y2="324.97" stroke="#000" stroke-width="2.3"/>
<text x="63.2" y="333.67" class="yt" >2</text>
<line x1="72.3" y1="355.32" x2="85.4" y2="355.32" stroke="#000" stroke-width="2.3"/>
<text x="63.2" y="364.02" class="yt" >1</text>
<line x1="101.34" y1="371" x2="101.34" y2="383.4" stroke="#000" stroke-width="2.3"/>
<line x1="131.21" y1="371" x2="131.21" y2="383.4" stroke="#000" stroke-width="2.3"/>
<line x1="161.09" y1="371" x2="161.09" y2="383.4" stroke="#000" stroke-width="2.3"/>
<line x1="190.96" y1="371" x2="190.96" y2="383.4" stroke="#000" stroke-width="2.3"/>
<line x1="220.83" y1="371" x2="220.83" y2="383.4" stroke="#000" stroke-width="2.3"/>
<line x1="250.71" y1="371" x2="250.71" y2="383.4" stroke="#000" stroke-width="2.3"/>
<line x1="280.58" y1="371" x2="280.58" y2="383.4" stroke="#000" stroke-width="2.3"/>
<line x1="310.46" y1="371" x2="310.46" y2="383.4" stroke="#000" stroke-width="2.3"/>
<line x1="340.33" y1="371" x2="340.33" y2="383.4" stroke="#000" stroke-width="2.3"/>
<line x1="370.21" y1="371" x2="370.21" y2="383.4" stroke="#000" stroke-width="2.3"/>
<line x1="400.08" y1="371" x2="400.08" y2="383.4" stroke="#000" stroke-width="2.3"/>
<line x1="429.96" y1="371" x2="429.96" y2="383.4" stroke="#000" stroke-width="2.3"/>
<line x1="459.83" y1="371" x2="459.83" y2="383.4" stroke="#000" stroke-width="2.3"/>
<line x1="489.7" y1="371" x2="489.7" y2="383.4" stroke="#000" stroke-width="2.3"/>
<line x1="519.58" y1="371" x2="519.58" y2="383.4" stroke="#000" stroke-width="2.3"/>
<line x1="549.45" y1="371" x2="549.45" y2="383.4" stroke="#000" stroke-width="2.3"/>
<line x1="579.33" y1="371" x2="579.33" y2="383.4" stroke="#000" stroke-width="2.3"/>
<line x1="609.2" y1="371" x2="609.2" y2="383.4" stroke="#000" stroke-width="2.3"/>
<line x1="639.08" y1="371" x2="639.08" y2="383.4" stroke="#000" stroke-width="2.3"/>
<line x1="668.95" y1="371" x2="668.95" y2="383.4" stroke="#000" stroke-width="2.3"/>
<line x1="698.82" y1="371" x2="698.82" y2="383.4" stroke="#000" stroke-width="2.3"/>
<line x1="728.7" y1="371" x2="728.7" y2="383.4" stroke="#000" stroke-width="2.3"/>
<line x1="758.57" y1="371" x2="758.57" y2="383.4" stroke="#000" stroke-width="2.3"/>
<line x1="788.45" y1="371" x2="788.45" y2="383.4" stroke="#000" stroke-width="2.3"/>
<line x1="818.32" y1="371" x2="818.32" y2="383.4" stroke="#000" stroke-width="2.3"/>
<line x1="848.2" y1="371" x2="848.2" y2="383.4" stroke="#000" stroke-width="2.3"/>
<line x1="878.07" y1="371" x2="878.07" y2="383.4" stroke="#000" stroke-width="2.3"/>
<line x1="907.94" y1="371" x2="907.94" y2="383.4" stroke="#000" stroke-width="2.3"/>
<line x1="937.82" y1="371" x2="937.82" y2="383.4" stroke="#000" stroke-width="2.3"/>
<line x1="967.69" y1="371" x2="967.69" y2="383.4" stroke="#000" stroke-width="2.3"/>
<line x1="997.57" y1="371" x2="997.57" y2="383.4" stroke="#000" stroke-width="2.3"/>
<line x1="1027.44" y1="371" x2="1027.44" y2="383.4" stroke="#000" stroke-width="2.3"/>
<line x1="1057.32" y1="371" x2="1057.32" y2="383.4" stroke="#000" stroke-width="2.3"/>
<line x1="1087.19" y1="371" x2="1087.19" y2="383.4" stroke="#000" stroke-width="2.3"/>
<line x1="1117.07" y1="371" x2="1117.07" y2="383.4" stroke="#000" stroke-width="2.3"/>
<line x1="1146.94" y1="371" x2="1146.94" y2="383.4" stroke="#000" stroke-width="2.3"/>
<line x1="1176.81" y1="371" x2="1176.81" y2="383.4" stroke="#000" stroke-width="2.3"/>
<line x1="1206.69" y1="371" x2="1206.69" y2="383.4" stroke="#000" stroke-width="2.3"/>
<line x1="1236.56" y1="371" x2="1236.56" y2="383.4" stroke="#000" stroke-width="2.3"/>
<text x="102.7" y="436.7" class="xt" >1980</text>
<text x="253" y="436.7" class="xt" >1985</text>
<text x="403.7" y="436.7" class="xt" >1990</text>
<text x="553" y="436.7" class="xt" >1995</text>
<text x="705.8" y="436.7" class="xt" >2000</text>
<text x="855.4" y="436.7" class="xt" >2005</text>
<text x="1010.3" y="436.7" class="xt" >2010</text>
<text x="1157.4" y="436.7" class="xt" >2015</text>
<text x="1248.4" y="436.7" class="xt" >2018</text>
<text class="ax" transform="translate(34.1,207.3) rotate(-90)" text-anchor="middle">month</text>
<text x="678.5" y="483.6" class="ax" text-anchor="middle">year</text>
<text class="par" x="636.8" y="512.4">（</text><text class="cap" x="668.7" y="514.5">d</text><text class="par" x="690.4" y="512.4">）</text>
<g shape-rendering="crispEdges">
<rect x="1293.3" y="7.6" width="47.3" height="12.84" fill="#ff0000"/>
<rect x="1293.3" y="19.94" width="47.3" height="12.84" fill="#f20505"/>
<rect x="1293.3" y="32.28" width="47.3" height="12.84" fill="#e40a0a"/>
<rect x="1293.3" y="44.62" width="47.3" height="12.84" fill="#d70f0f"/>
<rect x="1293.3" y="56.96" width="47.3" height="12.84" fill="#ca1313"/>
<rect x="1293.3" y="69.3" width="47.3" height="12.84" fill="#bc1818"/>
<rect x="1293.3" y="81.64" width="47.3" height="12.84" fill="#af1d1d"/>
<rect x="1293.3" y="93.98" width="47.3" height="12.84" fill="#a22020"/>
<rect x="1293.3" y="106.32" width="47.3" height="12.84" fill="#942323"/>
<rect x="1293.3" y="118.66" width="47.3" height="12.84" fill="#872727"/>
<rect x="1293.3" y="131" width="47.3" height="12.84" fill="#792a2a"/>
<rect x="1293.3" y="143.34" width="47.3" height="12.84" fill="#6c2e2e"/>
<rect x="1293.3" y="155.68" width="47.3" height="12.84" fill="#5f3131"/>
<rect x="1293.3" y="168.02" width="47.3" height="12.84" fill="#513838"/>
<rect x="1293.3" y="180.36" width="47.3" height="12.84" fill="#444444"/>
<rect x="1293.3" y="192.7" width="47.3" height="12.84" fill="#444444"/>
<rect x="1293.3" y="205.04" width="47.3" height="12.84" fill="#3c5454"/>
<rect x="1293.3" y="217.38" width="47.3" height="12.84" fill="#3a6262"/>
<rect x="1293.3" y="229.72" width="47.3" height="12.84" fill="#387070"/>
<rect x="1293.3" y="242.06" width="47.3" height="12.84" fill="#377e7e"/>
<rect x="1293.3" y="254.4" width="47.3" height="12.84" fill="#368b8b"/>
<rect x="1293.3" y="266.74" width="47.3" height="12.84" fill="#359898"/>
<rect x="1293.3" y="279.08" width="47.3" height="12.84" fill="#34a5a5"/>
<rect x="1293.3" y="291.42" width="47.3" height="12.84" fill="#34b3b3"/>
<rect x="1293.3" y="303.76" width="47.3" height="12.84" fill="#33bfbf"/>
<rect x="1293.3" y="316.1" width="47.3" height="12.84" fill="#32cccc"/>
<rect x="1293.3" y="328.44" width="47.3" height="12.84" fill="#32d9d9"/>
<rect x="1293.3" y="340.78" width="47.3" height="12.84" fill="#31e6e6"/>
<rect x="1293.3" y="353.12" width="47.3" height="12.84" fill="#31f2f2"/>
<rect x="1293.3" y="365.46" width="47.3" height="12.84" fill="#30ffff"/>
</g>
<rect x="1293.3" y="7.6" width="47.3" height="370.2" fill="none" stroke="#000" stroke-width="2.4"/>
<line x1="1340.6" y1="7.6" x2="1352.7" y2="7.6" stroke="#000" stroke-width="2.2"/>
<text x="1361" y="14.5" class="cb" >3.980</text>
<line x1="1340.6" y1="81.64" x2="1352.7" y2="81.64" stroke="#000" stroke-width="2.2"/>
<text x="1361" y="88.54" class="cb" >2.844</text>
<line x1="1340.6" y1="155.68" x2="1352.7" y2="155.68" stroke="#000" stroke-width="2.2"/>
<text x="1361" y="162.58" class="cb" >1.708</text>
<line x1="1340.6" y1="229.72" x2="1352.7" y2="229.72" stroke="#000" stroke-width="2.2"/>
<text x="1361" y="236.62" class="cb" >0.5720</text>
<line x1="1340.6" y1="303.76" x2="1352.7" y2="303.76" stroke="#000" stroke-width="2.2"/>
<text x="1361" y="310.66" class="cb" >-0.5640</text>
<line x1="1340.6" y1="377.8" x2="1352.7" y2="377.8" stroke="#000" stroke-width="2.2"/>
<text x="1361" y="384.7" class="cb" >-1.700</text>
<g shape-rendering="crispEdges">
<rect x="81.3" y="567.4" width="16.09" height="17.39" fill="#396d6d"/>
<rect x="96.79" y="567.4" width="31.58" height="17.39" fill="#33b8b8"/>
<rect x="127.77" y="567.4" width="31.58" height="17.39" fill="#396d6d"/>
<rect x="158.75" y="567.4" width="31.58" height="17.39" fill="#3b5959"/>
<rect x="189.73" y="567.4" width="31.58" height="17.39" fill="#444444"/>
<rect x="220.71" y="567.4" width="31.58" height="17.39" fill="#359393"/>
<rect x="251.68" y="567.4" width="31.58" height="17.39" fill="#34a5a5"/>
<rect x="282.66" y="567.4" width="31.58" height="17.39" fill="#33b8b8"/>
<rect x="313.64" y="567.4" width="31.58" height="17.39" fill="#33b8b8"/>
<rect x="344.62" y="567.4" width="31.58" height="17.39" fill="#359393"/>
<rect x="375.6" y="567.4" width="31.58" height="17.39" fill="#359393"/>
<rect x="406.58" y="567.4" width="31.58" height="17.39" fill="#3b5959"/>
<rect x="437.56" y="567.4" width="31.58" height="17.39" fill="#444444"/>
<rect x="468.54" y="567.4" width="31.58" height="17.39" fill="#34a5a5"/>
<rect x="499.52" y="567.4" width="31.58" height="17.39" fill="#3e4d4d"/>
<rect x="530.49" y="567.4" width="31.58" height="17.39" fill="#33b8b8"/>
<rect x="561.47" y="567.4" width="31.58" height="17.39" fill="#34a5a5"/>
<rect x="592.45" y="567.4" width="31.58" height="17.39" fill="#8f2525"/>
<rect x="623.43" y="567.4" width="31.58" height="17.39" fill="#33b8b8"/>
<rect x="654.41" y="567.4" width="31.58" height="17.39" fill="#33b8b8"/>
<rect x="685.39" y="567.4" width="31.58" height="17.39" fill="#34a5a5"/>
<rect x="716.37" y="567.4" width="31.58" height="17.39" fill="#359393"/>
<rect x="747.35" y="567.4" width="31.58" height="17.39" fill="#d21010"/>
<rect x="778.33" y="567.4" width="31.58" height="17.39" fill="#34a5a5"/>
<rect x="809.31" y="567.4" width="31.58" height="17.39" fill="#396d6d"/>
<rect x="840.28" y="567.4" width="31.58" height="17.39" fill="#3b5959"/>
<rect x="871.26" y="567.4" width="31.58" height="17.39" fill="#33b8b8"/>
<rect x="902.24" y="567.4" width="31.58" height="17.39" fill="#3b5959"/>
<rect x="933.22" y="567.4" width="31.58" height="17.39" fill="#33b8b8"/>
<rect x="964.2" y="567.4" width="31.58" height="17.39" fill="#396d6d"/>
<rect x="995.18" y="567.4" width="31.58" height="17.39" fill="#692e2e"/>
<rect x="1026.16" y="567.4" width="31.58" height="17.39" fill="#34a5a5"/>
<rect x="1057.14" y="567.4" width="31.58" height="17.39" fill="#3e4d4d"/>
<rect x="1088.12" y="567.4" width="31.58" height="17.39" fill="#3b5959"/>
<rect x="1119.09" y="567.4" width="31.58" height="17.39" fill="#359393"/>
<rect x="1150.07" y="567.4" width="31.58" height="17.39" fill="#752c2c"/>
<rect x="1181.05" y="567.4" width="31.58" height="17.39" fill="#3b5959"/>
<rect x="1212.03" y="567.4" width="31.58" height="17.39" fill="#359393"/>
<rect x="1243.01" y="567.4" width="16.09" height="17.39" fill="#3e4d4d"/>
<rect x="81.3" y="584.19" width="16.09" height="34.17" fill="#359393"/>
<rect x="96.79" y="584.19" width="31.58" height="34.17" fill="#396d6d"/>
<rect x="127.77" y="584.19" width="31.58" height="34.17" fill="#5a3232"/>
<rect x="158.75" y="584.19" width="31.58" height="34.17" fill="#359393"/>
<rect x="189.73" y="584.19" width="31.58" height="34.17" fill="#396d6d"/>
<rect x="220.71" y="584.19" width="31.58" height="34.17" fill="#396d6d"/>
<rect x="251.68" y="584.19" width="31.58" height="34.17" fill="#444444"/>
<rect x="282.66" y="584.19" width="31.58" height="34.17" fill="#396d6d"/>
<rect x="313.64" y="584.19" width="31.58" height="34.17" fill="#33b8b8"/>
<rect x="344.62" y="584.19" width="31.58" height="34.17" fill="#34a5a5"/>
<rect x="375.6" y="584.19" width="31.58" height="34.17" fill="#396d6d"/>
<rect x="406.58" y="584.19" width="31.58" height="34.17" fill="#396d6d"/>
<rect x="437.56" y="584.19" width="31.58" height="34.17" fill="#34a5a5"/>
<rect x="468.54" y="584.19" width="31.58" height="34.17" fill="#396d6d"/>
<rect x="499.52" y="584.19" width="31.58" height="34.17" fill="#34a5a5"/>
<rect x="530.49" y="584.19" width="31.58" height="34.17" fill="#359393"/>
<rect x="561.47" y="584.19" width="31.58" height="34.17" fill="#34a5a5"/>
<rect x="592.45" y="584.19" width="31.58" height="34.17" fill="#359393"/>
<rect x="623.43" y="584.19" width="31.58" height="34.17" fill="#34a5a5"/>
<rect x="654.41" y="584.19" width="31.58" height="34.17" fill="#359393"/>
<rect x="685.39" y="584.19" width="31.58" height="34.17" fill="#359393"/>
<rect x="716.37" y="584.19" width="31.58" height="34.17" fill="#359393"/>
<rect x="747.35" y="584.19" width="31.58" height="34.17" fill="#34a5a5"/>
<rect x="778.33" y="584.19" width="31.58" height="34.17" fill="#34a5a5"/>
<rect x="809.31" y="584.19" width="31.58" height="34.17" fill="#b41b1b"/>
<rect x="840.28" y="584.19" width="31.58" height="34.17" fill="#359393"/>
<rect x="871.26" y="584.19" width="31.58" height="34.17" fill="#3b5959"/>
<rect x="902.24" y="584.19" width="31.58" height="34.17" fill="#34a5a5"/>
<rect x="933.22" y="584.19" width="31.58" height="34.17" fill="#4f3939"/>
<rect x="964.2" y="584.19" width="31.58" height="34.17" fill="#359393"/>
<rect x="995.18" y="584.19" width="31.58" height="34.17" fill="#34a5a5"/>
<rect x="1026.16" y="584.19" width="31.58" height="34.17" fill="#359393"/>
<rect x="1057.14" y="584.19" width="31.58" height="34.17" fill="#444444"/>
<rect x="1088.12" y="584.19" width="31.58" height="34.17" fill="#396d6d"/>
<rect x="1119.09" y="584.19" width="31.58" height="34.17" fill="#396d6d"/>
<rect x="1150.07" y="584.19" width="31.58" height="34.17" fill="#ff0000"/>
<rect x="1181.05" y="584.19" width="31.58" height="34.17" fill="#396d6d"/>
<rect x="1212.03" y="584.19" width="31.58" height="34.17" fill="#359393"/>
<rect x="1243.01" y="584.19" width="16.09" height="34.17" fill="#396d6d"/>
<rect x="81.3" y="617.76" width="16.09" height="34.17" fill="#4f3939"/>
<rect x="96.79" y="617.76" width="31.58" height="34.17" fill="#3e4d4d"/>
<rect x="127.77" y="617.76" width="31.58" height="34.17" fill="#396d6d"/>
<rect x="158.75" y="617.76" width="31.58" height="34.17" fill="#3e4d4d"/>
<rect x="189.73" y="617.76" width="31.58" height="34.17" fill="#359393"/>
<rect x="220.71" y="617.76" width="31.58" height="34.17" fill="#359393"/>
<rect x="251.68" y="617.76" width="31.58" height="34.17" fill="#396d6d"/>
<rect x="282.66" y="617.76" width="31.58" height="34.17" fill="#5a3232"/>
<rect x="313.64" y="617.76" width="31.58" height="34.17" fill="#34a5a5"/>
<rect x="344.62" y="617.76" width="31.58" height="34.17" fill="#33b8b8"/>
<rect x="375.6" y="617.76" width="31.58" height="34.17" fill="#5a3232"/>
<rect x="406.58" y="617.76" width="31.58" height="34.17" fill="#396d6d"/>
<rect x="437.56" y="617.76" width="31.58" height="34.17" fill="#33b8b8"/>
<rect x="468.54" y="617.76" width="31.58" height="34.17" fill="#396d6d"/>
<rect x="499.52" y="617.76" width="31.58" height="34.17" fill="#a91e1e"/>
<rect x="530.49" y="617.76" width="31.58" height="34.17" fill="#3b5959"/>
<rect x="561.47" y="617.76" width="31.58" height="34.17" fill="#359393"/>
<rect x="592.45" y="617.76" width="31.58" height="34.17" fill="#3b5959"/>
<rect x="623.43" y="617.76" width="31.58" height="34.17" fill="#34a5a5"/>
<rect x="654.41" y="617.76" width="31.58" height="34.17" fill="#3e4d4d"/>
<rect x="685.39" y="617.76" width="31.58" height="34.17" fill="#692e2e"/>
<rect x="716.37" y="617.76" width="31.58" height="34.17" fill="#3e4d4d"/>
<rect x="747.35" y="617.76" width="31.58" height="34.17" fill="#8f2525"/>
<rect x="778.33" y="617.76" width="31.58" height="34.17" fill="#359393"/>
<rect x="809.31" y="617.76" width="31.58" height="34.17" fill="#33b8b8"/>
<rect x="840.28" y="617.76" width="31.58" height="34.17" fill="#33b8b8"/>
<rect x="871.26" y="617.76" width="31.58" height="34.17" fill="#33b8b8"/>
<rect x="902.24" y="617.76" width="31.58" height="34.17" fill="#33b8b8"/>
<rect x="933.22" y="617.76" width="31.58" height="34.17" fill="#396d6d"/>
<rect x="964.2" y="617.76" width="31.58" height="34.17" fill="#33b8b8"/>
<rect x="995.18" y="617.76" width="31.58" height="34.17" fill="#33b8b8"/>
<rect x="1026.16" y="617.76" width="31.58" height="34.17" fill="#359393"/>
<rect x="1057.14" y="617.76" width="31.58" height="34.17" fill="#359393"/>
<rect x="1088.12" y="617.76" width="31.58" height="34.17" fill="#33b8b8"/>
<rect x="1119.09" y="617.76" width="31.58" height="34.17" fill="#34a5a5"/>
<rect x="1150.07" y="617.76" width="31.58" height="34.17" fill="#4f3939"/>
<rect x="1181.05" y="617.76" width="31.58" height="34.17" fill="#33b8b8"/>
<rect x="1212.03" y="617.76" width="31.58" height="34.17" fill="#33b8b8"/>
<rect x="1243.01" y="617.76" width="16.09" height="34.17" fill="#444444"/>
<rect x="81.3" y="651.33" width="16.09" height="34.17" fill="#359393"/>
<rect x="96.79" y="651.33" width="31.58" height="34.17" fill="#396d6d"/>
<rect x="127.77" y="651.33" width="31.58" height="34.17" fill="#359393"/>
<rect x="158.75" y="651.33" width="31.58" height="34.17" fill="#c71414"/>
<rect x="189.73" y="651.33" width="31.58" height="34.17" fill="#396d6d"/>
<rect x="220.71" y="651.33" width="31.58" height="34.17" fill="#359393"/>
<rect x="251.68" y="651.33" width="31.58" height="34.17" fill="#34a5a5"/>
<rect x="282.66" y="651.33" width="31.58" height="34.17" fill="#444444"/>
<rect x="313.64" y="651.33" width="31.58" height="34.17" fill="#4f3939"/>
<rect x="344.62" y="651.33" width="31.58" height="34.17" fill="#359393"/>
<rect x="375.6" y="651.33" width="31.58" height="34.17" fill="#359393"/>
<rect x="406.58" y="651.33" width="31.58" height="34.17" fill="#33b8b8"/>
<rect x="437.56" y="651.33" width="31.58" height="34.17" fill="#396d6d"/>
<rect x="468.54" y="651.33" width="31.58" height="34.17" fill="#c71414"/>
<rect x="499.52" y="651.33" width="31.58" height="34.17" fill="#359393"/>
<rect x="530.49" y="651.33" width="31.58" height="34.17" fill="#3b5959"/>
<rect x="561.47" y="651.33" width="31.58" height="34.17" fill="#33b8b8"/>
<rect x="592.45" y="651.33" width="31.58" height="34.17" fill="#359393"/>
<rect x="623.43" y="651.33" width="31.58" height="34.17" fill="#34a5a5"/>
<rect x="654.41" y="651.33" width="31.58" height="34.17" fill="#34a5a5"/>
<rect x="685.39" y="651.33" width="31.58" height="34.17" fill="#444444"/>
<rect x="716.37" y="651.33" width="31.58" height="34.17" fill="#33b8b8"/>
<rect x="747.35" y="651.33" width="31.58" height="34.17" fill="#33b8b8"/>
<rect x="778.33" y="651.33" width="31.58" height="34.17" fill="#444444"/>
<rect x="809.31" y="651.33" width="31.58" height="34.17" fill="#33b8b8"/>
<rect x="840.28" y="651.33" width="31.58" height="34.17" fill="#359393"/>
<rect x="871.26" y="651.33" width="31.58" height="34.17" fill="#33b8b8"/>
<rect x="902.24" y="651.33" width="31.58" height="34.17" fill="#396d6d"/>
<rect x="933.22" y="651.33" width="31.58" height="34.17" fill="#34a5a5"/>
<rect x="964.2" y="651.33" width="31.58" height="34.17" fill="#3e4d4d"/>
<rect x="995.18" y="651.33" width="31.58" height="34.17" fill="#3e4d4d"/>
<rect x="1026.16" y="651.33" width="31.58" height="34.17" fill="#359393"/>
<rect x="1057.14" y="651.33" width="31.58" height="34.17" fill="#4f3939"/>
<rect x="1088.12" y="651.33" width="31.58" height="34.17" fill="#3e4d4d"/>
<rect x="1119.09" y="651.33" width="31.58" height="34.17" fill="#3e4d4d"/>
<rect x="1150.07" y="651.33" width="31.58" height="34.17" fill="#3b5959"/>
<rect x="1181.05" y="651.33" width="31.58" height="34.17" fill="#33b8b8"/>
<rect x="1212.03" y="651.33" width="31.58" height="34.17" fill="#33b8b8"/>
<rect x="1243.01" y="651.33" width="16.09" height="34.17" fill="#3e4d4d"/>
<rect x="81.3" y="684.9" width="16.09" height="34.17" fill="#3e4d4d"/>
<rect x="96.79" y="684.9" width="31.58" height="34.17" fill="#32dcdc"/>
<rect x="127.77" y="684.9" width="31.58" height="34.17" fill="#444444"/>
<rect x="158.75" y="684.9" width="31.58" height="34.17" fill="#5a3232"/>
<rect x="189.73" y="684.9" width="31.58" height="34.17" fill="#3b5959"/>
<rect x="220.71" y="684.9" width="31.58" height="34.17" fill="#396d6d"/>
<rect x="251.68" y="684.9" width="31.58" height="34.17" fill="#34a5a5"/>
<rect x="282.66" y="684.9" width="31.58" height="34.17" fill="#359393"/>
<rect x="313.64" y="684.9" width="31.58" height="34.17" fill="#802929"/>
<rect x="344.62" y="684.9" width="31.58" height="34.17" fill="#359393"/>
<rect x="375.6" y="684.9" width="31.58" height="34.17" fill="#32dcdc"/>
<rect x="406.58" y="684.9" width="31.58" height="34.17" fill="#33b8b8"/>
<rect x="437.56" y="684.9" width="31.58" height="34.17" fill="#32dcdc"/>
<rect x="468.54" y="684.9" width="31.58" height="34.17" fill="#359393"/>
<rect x="499.52" y="684.9" width="31.58" height="34.17" fill="#5a3232"/>
<rect x="530.49" y="684.9" width="31.58" height="34.17" fill="#396d6d"/>
<rect x="561.47" y="684.9" width="31.58" height="34.17" fill="#396d6d"/>
<rect x="592.45" y="684.9" width="31.58" height="34.17" fill="#444444"/>
<rect x="623.43" y="684.9" width="31.58" height="34.17" fill="#33b8b8"/>
<rect x="654.41" y="684.9" width="31.58" height="34.17" fill="#5a3232"/>
<rect x="685.39" y="684.9" width="31.58" height="34.17" fill="#444444"/>
<rect x="716.37" y="684.9" width="31.58" height="34.17" fill="#396d6d"/>
<rect x="747.35" y="684.9" width="31.58" height="34.17" fill="#396d6d"/>
<rect x="778.33" y="684.9" width="31.58" height="34.17" fill="#33b8b8"/>
<rect x="809.31" y="684.9" width="31.58" height="34.17" fill="#359393"/>
<rect x="840.28" y="684.9" width="31.58" height="34.17" fill="#359393"/>
<rect x="871.26" y="684.9" width="31.58" height="34.17" fill="#34a5a5"/>
<rect x="902.24" y="684.9" width="31.58" height="34.17" fill="#34a5a5"/>
<rect x="933.22" y="684.9" width="31.58" height="34.17" fill="#5a3232"/>
<rect x="964.2" y="684.9" width="31.58" height="34.17" fill="#32dcdc"/>
<rect x="995.18" y="684.9" width="31.58" height="34.17" fill="#33b8b8"/>
<rect x="1026.16" y="684.9" width="31.58" height="34.17" fill="#33b8b8"/>
<rect x="1057.14" y="684.9" width="31.58" height="34.17" fill="#359393"/>
<rect x="1088.12" y="684.9" width="31.58" height="34.17" fill="#396d6d"/>
<rect x="1119.09" y="684.9" width="31.58" height="34.17" fill="#3e4d4d"/>
<rect x="1150.07" y="684.9" width="31.58" height="34.17" fill="#4f3939"/>
<rect x="1181.05" y="684.9" width="31.58" height="34.17" fill="#34a5a5"/>
<rect x="1212.03" y="684.9" width="31.58" height="34.17" fill="#752c2c"/>
<rect x="1243.01" y="684.9" width="16.09" height="34.17" fill="#34a5a5"/>
<rect x="81.3" y="718.48" width="16.09" height="34.17" fill="#396d6d"/>
<rect x="96.79" y="718.48" width="31.58" height="34.17" fill="#3b5959"/>
<rect x="127.77" y="718.48" width="31.58" height="34.17" fill="#34a5a5"/>
<rect x="158.75" y="718.48" width="31.58" height="34.17" fill="#33b8b8"/>
<rect x="189.73" y="718.48" width="31.58" height="34.17" fill="#34a5a5"/>
<rect x="220.71" y="718.48" width="31.58" height="34.17" fill="#359393"/>
<rect x="251.68" y="718.48" width="31.58" height="34.17" fill="#444444"/>
<rect x="282.66" y="718.48" width="31.58" height="34.17" fill="#396d6d"/>
<rect x="313.64" y="718.48" width="31.58" height="34.17" fill="#34a5a5"/>
<rect x="344.62" y="718.48" width="31.58" height="34.17" fill="#396d6d"/>
<rect x="375.6" y="718.48" width="31.58" height="34.17" fill="#378080"/>
<rect x="406.58" y="718.48" width="31.58" height="34.17" fill="#396d6d"/>
<rect x="437.56" y="718.48" width="31.58" height="34.17" fill="#396d6d"/>
<rect x="468.54" y="718.48" width="31.58" height="34.17" fill="#802929"/>
<rect x="499.52" y="718.48" width="31.58" height="34.17" fill="#396d6d"/>
<rect x="530.49" y="718.48" width="31.58" height="34.17" fill="#32dcdc"/>
<rect x="561.47" y="718.48" width="31.58" height="34.17" fill="#444444"/>
<rect x="592.45" y="718.48" width="31.58" height="34.17" fill="#3e4d4d"/>
<rect x="623.43" y="718.48" width="31.58" height="34.17" fill="#3e4d4d"/>
<rect x="654.41" y="718.48" width="31.58" height="34.17" fill="#b41b1b"/>
<rect x="685.39" y="718.48" width="31.58" height="34.17" fill="#32dcdc"/>
<rect x="716.37" y="718.48" width="31.58" height="34.17" fill="#359393"/>
<rect x="747.35" y="718.48" width="31.58" height="34.17" fill="#34a5a5"/>
<rect x="778.33" y="718.48" width="31.58" height="34.17" fill="#32dcdc"/>
<rect x="809.31" y="718.48" width="31.58" height="34.17" fill="#5a3232"/>
<rect x="840.28" y="718.48" width="31.58" height="34.17" fill="#33b8b8"/>
<rect x="871.26" y="718.48" width="31.58" height="34.17" fill="#3e4d4d"/>
<rect x="902.24" y="718.48" width="31.58" height="34.17" fill="#34a5a5"/>
<rect x="933.22" y="718.48" width="31.58" height="34.17" fill="#3e4d4d"/>
<rect x="964.2" y="718.48" width="31.58" height="34.17" fill="#8f2525"/>
<rect x="995.18" y="718.48" width="31.58" height="34.17" fill="#34a5a5"/>
<rect x="1026.16" y="718.48" width="31.58" height="34.17" fill="#32dcdc"/>
<rect x="1057.14" y="718.48" width="31.58" height="34.17" fill="#396d6d"/>
<rect x="1088.12" y="718.48" width="31.58" height="34.17" fill="#33b8b8"/>
<rect x="1119.09" y="718.48" width="31.58" height="34.17" fill="#3e4d4d"/>
<rect x="1150.07" y="718.48" width="31.58" height="34.17" fill="#3b5959"/>
<rect x="1181.05" y="718.48" width="31.58" height="34.17" fill="#33b8b8"/>
<rect x="1212.03" y="718.48" width="31.58" height="34.17" fill="#3b5959"/>
<rect x="1243.01" y="718.48" width="16.09" height="34.17" fill="#396d6d"/>
<rect x="81.3" y="752.05" width="16.09" height="34.17" fill="#32dcdc"/>
<rect x="96.79" y="752.05" width="31.58" height="34.17" fill="#396d6d"/>
<rect x="127.77" y="752.05" width="31.58" height="34.17" fill="#444444"/>
<rect x="158.75" y="752.05" width="31.58" height="34.17" fill="#359393"/>
<rect x="189.73" y="752.05" width="31.58" height="34.17" fill="#32dcdc"/>
<rect x="220.71" y="752.05" width="31.58" height="34.17" fill="#34a5a5"/>
<rect x="251.68" y="752.05" width="31.58" height="34.17" fill="#32dcdc"/>
<rect x="282.66" y="752.05" width="31.58" height="34.17" fill="#359393"/>
<rect x="313.64" y="752.05" width="31.58" height="34.17" fill="#359393"/>
<rect x="344.62" y="752.05" width="31.58" height="34.17" fill="#33b8b8"/>
<rect x="375.6" y="752.05" width="31.58" height="34.17" fill="#33b8b8"/>
<rect x="406.58" y="752.05" width="31.58" height="34.17" fill="#359393"/>
<rect x="437.56" y="752.05" width="31.58" height="34.17" fill="#444444"/>
<rect x="468.54" y="752.05" width="31.58" height="34.17" fill="#444444"/>
<rect x="499.52" y="752.05" width="31.58" height="34.17" fill="#692e2e"/>
<rect x="530.49" y="752.05" width="31.58" height="34.17" fill="#359393"/>
<rect x="561.47" y="752.05" width="31.58" height="34.17" fill="#359393"/>
<rect x="592.45" y="752.05" width="31.58" height="34.17" fill="#33b8b8"/>
<rect x="623.43" y="752.05" width="31.58" height="34.17" fill="#a91e1e"/>
<rect x="654.41" y="752.05" width="31.58" height="34.17" fill="#34a5a5"/>
<rect x="685.39" y="752.05" width="31.58" height="34.17" fill="#396d6d"/>
<rect x="716.37" y="752.05" width="31.58" height="34.17" fill="#33b8b8"/>
<rect x="747.35" y="752.05" width="31.58" height="34.17" fill="#5a3232"/>
<rect x="778.33" y="752.05" width="31.58" height="34.17" fill="#359393"/>
<rect x="809.31" y="752.05" width="31.58" height="34.17" fill="#33b8b8"/>
<rect x="840.28" y="752.05" width="31.58" height="34.17" fill="#3e4d4d"/>
<rect x="871.26" y="752.05" width="31.58" height="34.17" fill="#359393"/>
<rect x="902.24" y="752.05" width="31.58" height="34.17" fill="#4f3939"/>
<rect x="933.22" y="752.05" width="31.58" height="34.17" fill="#5a3232"/>
<rect x="964.2" y="752.05" width="31.58" height="34.17" fill="#359393"/>
<rect x="995.18" y="752.05" width="31.58" height="34.17" fill="#692e2e"/>
<rect x="1026.16" y="752.05" width="31.58" height="34.17" fill="#396d6d"/>
<rect x="1057.14" y="752.05" width="31.58" height="34.17" fill="#3b5959"/>
<rect x="1088.12" y="752.05" width="31.58" height="34.17" fill="#359393"/>
<rect x="1119.09" y="752.05" width="31.58" height="34.17" fill="#396d6d"/>
<rect x="1150.07" y="752.05" width="31.58" height="34.17" fill="#3b5959"/>
<rect x="1181.05" y="752.05" width="31.58" height="34.17" fill="#34a5a5"/>
<rect x="1212.03" y="752.05" width="31.58" height="34.17" fill="#692e2e"/>
<rect x="1243.01" y="752.05" width="16.09" height="34.17" fill="#33b8b8"/>
<rect x="81.3" y="785.62" width="16.09" height="34.17" fill="#387979"/>
<rect x="96.79" y="785.62" width="31.58" height="34.17" fill="#34a5a5"/>
<rect x="127.77" y="785.62" width="31.58" height="34.17" fill="#444444"/>
<rect x="158.75" y="785.62" width="31.58" height="34.17" fill="#3b5959"/>
<rect x="189.73" y="785.62" width="31.58" height="34.17" fill="#3e4d4d"/>
<rect x="220.71" y="785.62" width="31.58" height="34.17" fill="#33b8b8"/>
<rect x="251.68" y="785.62" width="31.58" height="34.17" fill="#33b8b8"/>
<rect x="282.66" y="785.62" width="31.58" height="34.17" fill="#396d6d"/>
<rect x="313.64" y="785.62" width="31.58" height="34.17" fill="#33b8b8"/>
<rect x="344.62" y="785.62" width="31.58" height="34.17" fill="#396d6d"/>
<rect x="375.6" y="785.62" width="31.58" height="34.17" fill="#3b5959"/>
<rect x="406.58" y="785.62" width="31.58" height="34.17" fill="#33b8b8"/>
<rect x="437.56" y="785.62" width="31.58" height="34.17" fill="#802929"/>
<rect x="468.54" y="785.62" width="31.58" height="34.17" fill="#5a3232"/>
<rect x="499.52" y="785.62" width="31.58" height="34.17" fill="#3b5959"/>
<rect x="530.49" y="785.62" width="31.58" height="34.17" fill="#33b8b8"/>
<rect x="561.47" y="785.62" width="31.58" height="34.17" fill="#359393"/>
<rect x="592.45" y="785.62" width="31.58" height="34.17" fill="#3e4d4d"/>
<rect x="623.43" y="785.62" width="31.58" height="34.17" fill="#396d6d"/>
<rect x="654.41" y="785.62" width="31.58" height="34.17" fill="#396d6d"/>
<rect x="685.39" y="785.62" width="31.58" height="34.17" fill="#3b5959"/>
<rect x="716.37" y="785.62" width="31.58" height="34.17" fill="#33b8b8"/>
<rect x="747.35" y="785.62" width="31.58" height="34.17" fill="#692e2e"/>
<rect x="778.33" y="785.62" width="31.58" height="34.17" fill="#752c2c"/>
<rect x="809.31" y="785.62" width="31.58" height="34.17" fill="#396d6d"/>
<rect x="840.28" y="785.62" width="31.58" height="34.17" fill="#4f3939"/>
<rect x="871.26" y="785.62" width="31.58" height="34.17" fill="#3b5959"/>
<rect x="902.24" y="785.62" width="31.58" height="34.17" fill="#30ffff"/>
<rect x="933.22" y="785.62" width="31.58" height="34.17" fill="#3b5959"/>
<rect x="964.2" y="785.62" width="31.58" height="34.17" fill="#33b8b8"/>
<rect x="995.18" y="785.62" width="31.58" height="34.17" fill="#359393"/>
<rect x="1026.16" y="785.62" width="31.58" height="34.17" fill="#34a5a5"/>
<rect x="1057.14" y="785.62" width="31.58" height="34.17" fill="#33b8b8"/>
<rect x="1088.12" y="785.62" width="31.58" height="34.17" fill="#3b5959"/>
<rect x="1119.09" y="785.62" width="31.58" height="34.17" fill="#34a5a5"/>
<rect x="1150.07" y="785.62" width="31.58" height="34.17" fill="#692e2e"/>
<rect x="1181.05" y="785.62" width="31.58" height="34.17" fill="#3b5959"/>
<rect x="1212.03" y="785.62" width="31.58" height="34.17" fill="#34a5a5"/>
<rect x="1243.01" y="785.62" width="16.09" height="34.17" fill="#34a5a5"/>
<rect x="81.3" y="819.2" width="16.09" height="34.17" fill="#752c2c"/>
<rect x="96.79" y="819.2" width="31.58" height="34.17" fill="#752c2c"/>
<rect x="127.77" y="819.2" width="31.58" height="34.17" fill="#3e4d4d"/>
<rect x="158.75" y="819.2" width="31.58" height="34.17" fill="#359393"/>
<rect x="189.73" y="819.2" width="31.58" height="34.17" fill="#359393"/>
<rect x="220.71" y="819.2" width="31.58" height="34.17" fill="#396d6d"/>
<rect x="251.68" y="819.2" width="31.58" height="34.17" fill="#396d6d"/>
<rect x="282.66" y="819.2" width="31.58" height="34.17" fill="#359393"/>
<rect x="313.64" y="819.2" width="31.58" height="34.17" fill="#34a5a5"/>
<rect x="344.62" y="819.2" width="31.58" height="34.17" fill="#359393"/>
<rect x="375.6" y="819.2" width="31.58" height="34.17" fill="#359393"/>
<rect x="406.58" y="819.2" width="31.58" height="34.17" fill="#32dcdc"/>
<rect x="437.56" y="819.2" width="31.58" height="34.17" fill="#359393"/>
<rect x="468.54" y="819.2" width="31.58" height="34.17" fill="#396d6d"/>
<rect x="499.52" y="819.2" width="31.58" height="34.17" fill="#396d6d"/>
<rect x="530.49" y="819.2" width="31.58" height="34.17" fill="#396d6d"/>
<rect x="561.47" y="819.2" width="31.58" height="34.17" fill="#396d6d"/>
<rect x="592.45" y="819.2" width="31.58" height="34.17" fill="#4f3939"/>
<rect x="623.43" y="819.2" width="31.58" height="34.17" fill="#359393"/>
<rect x="654.41" y="819.2" width="31.58" height="34.17" fill="#5a3232"/>
<rect x="685.39" y="819.2" width="31.58" height="34.17" fill="#444444"/>
<rect x="716.37" y="819.2" width="31.58" height="34.17" fill="#752c2c"/>
<rect x="747.35" y="819.2" width="31.58" height="34.17" fill="#396d6d"/>
<rect x="778.33" y="819.2" width="31.58" height="34.17" fill="#396d6d"/>
<rect x="809.31" y="819.2" width="31.58" height="34.17" fill="#359393"/>
<rect x="840.28" y="819.2" width="31.58" height="34.17" fill="#32dcdc"/>
<rect x="871.26" y="819.2" width="31.58" height="34.17" fill="#396d6d"/>
<rect x="902.24" y="819.2" width="31.58" height="34.17" fill="#33b8b8"/>
<rect x="933.22" y="819.2" width="31.58" height="34.17" fill="#33b8b8"/>
<rect x="964.2" y="819.2" width="31.58" height="34.17" fill="#396d6d"/>
<rect x="995.18" y="819.2" width="31.58" height="34.17" fill="#752c2c"/>
<rect x="1026.16" y="819.2" width="31.58" height="34.17" fill="#30f4f4"/>
<rect x="1057.14" y="819.2" width="31.58" height="34.17" fill="#3b5959"/>
<rect x="1088.12" y="819.2" width="31.58" height="34.17" fill="#4f3939"/>
<rect x="1119.09" y="819.2" width="31.58" height="34.17" fill="#444444"/>
<rect x="1150.07" y="819.2" width="31.58" height="34.17" fill="#32dcdc"/>
<rect x="1181.05" y="819.2" width="31.58" height="34.17" fill="#3e4d4d"/>
<rect x="1212.03" y="819.2" width="31.58" height="34.17" fill="#33b8b8"/>
<rect x="1243.01" y="819.2" width="16.09" height="34.17" fill="#33b8b8"/>
<rect x="81.3" y="852.77" width="16.09" height="34.17" fill="#359393"/>
<rect x="96.79" y="852.77" width="31.58" height="34.17" fill="#4f3939"/>
<rect x="127.77" y="852.77" width="31.58" height="34.17" fill="#396d6d"/>
<rect x="158.75" y="852.77" width="31.58" height="34.17" fill="#359393"/>
<rect x="189.73" y="852.77" width="31.58" height="34.17" fill="#32dcdc"/>
<rect x="220.71" y="852.77" width="31.58" height="34.17" fill="#359393"/>
<rect x="251.68" y="852.77" width="31.58" height="34.17" fill="#359393"/>
<rect x="282.66" y="852.77" width="31.58" height="34.17" fill="#444444"/>
<rect x="313.64" y="852.77" width="31.58" height="34.17" fill="#32dcdc"/>
<rect x="344.62" y="852.77" width="31.58" height="34.17" fill="#444444"/>
<rect x="375.6" y="852.77" width="31.58" height="34.17" fill="#c71414"/>
<rect x="406.58" y="852.77" width="31.58" height="34.17" fill="#359393"/>
<rect x="437.56" y="852.77" width="31.58" height="34.17" fill="#444444"/>
<rect x="468.54" y="852.77" width="31.58" height="34.17" fill="#34a5a5"/>
<rect x="499.52" y="852.77" width="31.58" height="34.17" fill="#396d6d"/>
<rect x="530.49" y="852.77" width="31.58" height="34.17" fill="#359393"/>
<rect x="561.47" y="852.77" width="31.58" height="34.17" fill="#802929"/>
<rect x="592.45" y="852.77" width="31.58" height="34.17" fill="#396d6d"/>
<rect x="623.43" y="852.77" width="31.58" height="34.17" fill="#3b5959"/>
<rect x="654.41" y="852.77" width="31.58" height="34.17" fill="#32dcdc"/>
<rect x="685.39" y="852.77" width="31.58" height="34.17" fill="#3b5959"/>
<rect x="716.37" y="852.77" width="31.58" height="34.17" fill="#359393"/>
<rect x="747.35" y="852.77" width="31.58" height="34.17" fill="#5a3232"/>
<rect x="778.33" y="852.77" width="31.58" height="34.17" fill="#33b8b8"/>
<rect x="809.31" y="852.77" width="31.58" height="34.17" fill="#396d6d"/>
<rect x="840.28" y="852.77" width="31.58" height="34.17" fill="#3b5959"/>
<rect x="871.26" y="852.77" width="31.58" height="34.17" fill="#359393"/>
<rect x="902.24" y="852.77" width="31.58" height="34.17" fill="#32dcdc"/>
<rect x="933.22" y="852.77" width="31.58" height="34.17" fill="#396d6d"/>
<rect x="964.2" y="852.77" width="31.58" height="34.17" fill="#396d6d"/>
<rect x="995.18" y="852.77" width="31.58" height="34.17" fill="#32dcdc"/>
<rect x="1026.16" y="852.77" width="31.58" height="34.17" fill="#34a5a5"/>
<rect x="1057.14" y="852.77" width="31.58" height="34.17" fill="#3e4d4d"/>
<rect x="1088.12" y="852.77" width="31.58" height="34.17" fill="#396d6d"/>
<rect x="1119.09" y="852.77" width="31.58" height="34.17" fill="#359393"/>
<rect x="1150.07" y="852.77" width="31.58" height="34.17" fill="#33b8b8"/>
<rect x="1181.05" y="852.77" width="31.58" height="34.17" fill="#359393"/>
<rect x="1212.03" y="852.77" width="31.58" height="34.17" fill="#444444"/>
<rect x="1243.01" y="852.77" width="16.09" height="34.17" fill="#4f3939"/>
<rect x="81.3" y="886.34" width="16.09" height="34.17" fill="#444444"/>
<rect x="96.79" y="886.34" width="31.58" height="34.17" fill="#396d6d"/>
<rect x="127.77" y="886.34" width="31.58" height="34.17" fill="#444444"/>
<rect x="158.75" y="886.34" width="31.58" height="34.17" fill="#4f3939"/>
<rect x="189.73" y="886.34" width="31.58" height="34.17" fill="#33b8b8"/>
<rect x="220.71" y="886.34" width="31.58" height="34.17" fill="#802929"/>
<rect x="251.68" y="886.34" width="31.58" height="34.17" fill="#359393"/>
<rect x="282.66" y="886.34" width="31.58" height="34.17" fill="#359393"/>
<rect x="313.64" y="886.34" width="31.58" height="34.17" fill="#396d6d"/>
<rect x="344.62" y="886.34" width="31.58" height="34.17" fill="#378080"/>
<rect x="375.6" y="886.34" width="31.58" height="34.17" fill="#3b5959"/>
<rect x="406.58" y="886.34" width="31.58" height="34.17" fill="#444444"/>
<rect x="437.56" y="886.34" width="31.58" height="34.17" fill="#444444"/>
<rect x="468.54" y="886.34" width="31.58" height="34.17" fill="#a91e1e"/>
<rect x="499.52" y="886.34" width="31.58" height="34.17" fill="#3b5959"/>
<rect x="530.49" y="886.34" width="31.58" height="34.17" fill="#396d6d"/>
<rect x="561.47" y="886.34" width="31.58" height="34.17" fill="#32dcdc"/>
<rect x="592.45" y="886.34" width="31.58" height="34.17" fill="#34a5a5"/>
<rect x="623.43" y="886.34" width="31.58" height="34.17" fill="#396d6d"/>
<rect x="654.41" y="886.34" width="31.58" height="34.17" fill="#32dcdc"/>
<rect x="685.39" y="886.34" width="31.58" height="34.17" fill="#34a5a5"/>
<rect x="716.37" y="886.34" width="31.58" height="34.17" fill="#34a5a5"/>
<rect x="747.35" y="886.34" width="31.58" height="34.17" fill="#3b5959"/>
<rect x="778.33" y="886.34" width="31.58" height="34.17" fill="#3b5959"/>
<rect x="809.31" y="886.34" width="31.58" height="34.17" fill="#34a5a5"/>
<rect x="840.28" y="886.34" width="31.58" height="34.17" fill="#444444"/>
<rect x="871.26" y="886.34" width="31.58" height="34.17" fill="#3e4d4d"/>
<rect x="902.24" y="886.34" width="31.58" height="34.17" fill="#692e2e"/>
<rect x="933.22" y="886.34" width="31.58" height="34.17" fill="#3e4d4d"/>
<rect x="964.2" y="886.34" width="31.58" height="34.17" fill="#33b8b8"/>
<rect x="995.18" y="886.34" width="31.58" height="34.17" fill="#32dcdc"/>
<rect x="1026.16" y="886.34" width="31.58" height="34.17" fill="#33b8b8"/>
<rect x="1057.14" y="886.34" width="31.58" height="34.17" fill="#359393"/>
<rect x="1088.12" y="886.34" width="31.58" height="34.17" fill="#34a5a5"/>
<rect x="1119.09" y="886.34" width="31.58" height="34.17" fill="#359393"/>
<rect x="1150.07" y="886.34" width="31.58" height="34.17" fill="#396d6d"/>
<rect x="1181.05" y="886.34" width="31.58" height="34.17" fill="#32dcdc"/>
<rect x="1212.03" y="886.34" width="31.58" height="34.17" fill="#359393"/>
<rect x="1243.01" y="886.34" width="16.09" height="34.17" fill="#32dcdc"/>
<rect x="81.3" y="919.91" width="16.09" height="17.39" fill="#802929"/>
<rect x="96.79" y="919.91" width="31.58" height="17.39" fill="#359393"/>
<rect x="127.77" y="919.91" width="31.58" height="17.39" fill="#359393"/>
<rect x="158.75" y="919.91" width="31.58" height="17.39" fill="#396d6d"/>
<rect x="189.73" y="919.91" width="31.58" height="17.39" fill="#33b8b8"/>
<rect x="220.71" y="919.91" width="31.58" height="17.39" fill="#33b8b8"/>
<rect x="251.68" y="919.91" width="31.58" height="17.39" fill="#33b8b8"/>
<rect x="282.66" y="919.91" width="31.58" height="17.39" fill="#359393"/>
<rect x="313.64" y="919.91" width="31.58" height="17.39" fill="#33b8b8"/>
<rect x="344.62" y="919.91" width="31.58" height="17.39" fill="#3e4d4d"/>
<rect x="375.6" y="919.91" width="31.58" height="17.39" fill="#5a3232"/>
<rect x="406.58" y="919.91" width="31.58" height="17.39" fill="#4f3939"/>
<rect x="437.56" y="919.91" width="31.58" height="17.39" fill="#396d6d"/>
<rect x="468.54" y="919.91" width="31.58" height="17.39" fill="#3b5959"/>
<rect x="499.52" y="919.91" width="31.58" height="17.39" fill="#33b8b8"/>
<rect x="530.49" y="919.91" width="31.58" height="17.39" fill="#444444"/>
<rect x="561.47" y="919.91" width="31.58" height="17.39" fill="#3b5959"/>
<rect x="592.45" y="919.91" width="31.58" height="17.39" fill="#4b3d3d"/>
<rect x="623.43" y="919.91" width="31.58" height="17.39" fill="#396d6d"/>
<rect x="654.41" y="919.91" width="31.58" height="17.39" fill="#396d6d"/>
<rect x="685.39" y="919.91" width="31.58" height="17.39" fill="#359393"/>
<rect x="716.37" y="919.91" width="31.58" height="17.39" fill="#396d6d"/>
<rect x="747.35" y="919.91" width="31.58" height="17.39" fill="#3b5959"/>
<rect x="778.33" y="919.91" width="31.58" height="17.39" fill="#8f2525"/>
<rect x="809.31" y="919.91" width="31.58" height="17.39" fill="#359393"/>
<rect x="840.28" y="919.91" width="31.58" height="17.39" fill="#359393"/>
<rect x="871.26" y="919.91" width="31.58" height="17.39" fill="#444444"/>
<rect x="902.24" y="919.91" width="31.58" height="17.39" fill="#396d6d"/>
<rect x="933.22" y="919.91" width="31.58" height="17.39" fill="#33b8b8"/>
<rect x="964.2" y="919.91" width="31.58" height="17.39" fill="#32dcdc"/>
<rect x="995.18" y="919.91" width="31.58" height="17.39" fill="#5a3232"/>
<rect x="1026.16" y="919.91" width="31.58" height="17.39" fill="#33b8b8"/>
<rect x="1057.14" y="919.91" width="31.58" height="17.39" fill="#5a3232"/>
<rect x="1088.12" y="919.91" width="31.58" height="17.39" fill="#34a5a5"/>
<rect x="1119.09" y="919.91" width="31.58" height="17.39" fill="#32dcdc"/>
<rect x="1150.07" y="919.91" width="31.58" height="17.39" fill="#33b8b8"/>
<rect x="1181.05" y="919.91" width="31.58" height="17.39" fill="#396d6d"/>
<rect x="1212.03" y="919.91" width="31.58" height="17.39" fill="#34a5a5"/>
<rect x="1243.01" y="919.91" width="16.09" height="17.39" fill="#34a5a5"/>
</g>
<rect x="81.3" y="567.4" width="1177.2" height="369.3" fill="none" stroke="#000" stroke-width="2.5"/>
<line x1="68.2" y1="567.4" x2="81.3" y2="567.4" stroke="#000" stroke-width="2.3"/>
<text x="58.8" y="575.9" class="yte" >12</text>
<line x1="68.2" y1="600.97" x2="81.3" y2="600.97" stroke="#000" stroke-width="2.3"/>
<text x="58.8" y="609.47" class="yte" >11</text>
<line x1="68.2" y1="634.55" x2="81.3" y2="634.55" stroke="#000" stroke-width="2.3"/>
<text x="58.8" y="643.05" class="yte" >10</text>
<line x1="68.2" y1="668.12" x2="81.3" y2="668.12" stroke="#000" stroke-width="2.3"/>
<text x="58.8" y="676.62" class="yte" >9</text>
<line x1="68.2" y1="701.69" x2="81.3" y2="701.69" stroke="#000" stroke-width="2.3"/>
<text x="58.8" y="710.19" class="yte" >8</text>
<line x1="68.2" y1="735.26" x2="81.3" y2="735.26" stroke="#000" stroke-width="2.3"/>
<text x="58.8" y="743.76" class="yte" >7</text>
<line x1="68.2" y1="768.84" x2="81.3" y2="768.84" stroke="#000" stroke-width="2.3"/>
<text x="58.8" y="777.34" class="yte" >6</text>
<line x1="68.2" y1="802.41" x2="81.3" y2="802.41" stroke="#000" stroke-width="2.3"/>
<text x="58.8" y="810.91" class="yte" >5</text>
<line x1="68.2" y1="835.98" x2="81.3" y2="835.98" stroke="#000" stroke-width="2.3"/>
<text x="58.8" y="844.48" class="yte" >4</text>
<line x1="68.2" y1="869.55" x2="81.3" y2="869.55" stroke="#000" stroke-width="2.3"/>
<text x="58.8" y="878.05" class="yte" >3</text>
<line x1="68.2" y1="903.13" x2="81.3" y2="903.13" stroke="#000" stroke-width="2.3"/>
<text x="58.8" y="911.63" class="yte" >2</text>
<line x1="68.2" y1="936.7" x2="81.3" y2="936.7" stroke="#000" stroke-width="2.3"/>
<text x="58.8" y="945.2" class="yte" >1</text>
<line x1="81.3" y1="936.7" x2="81.3" y2="950" stroke="#000" stroke-width="2.3"/>
<line x1="112.28" y1="936.7" x2="112.28" y2="950" stroke="#000" stroke-width="2.3"/>
<line x1="143.26" y1="936.7" x2="143.26" y2="950" stroke="#000" stroke-width="2.3"/>
<line x1="174.24" y1="936.7" x2="174.24" y2="950" stroke="#000" stroke-width="2.3"/>
<line x1="205.22" y1="936.7" x2="205.22" y2="950" stroke="#000" stroke-width="2.3"/>
<line x1="236.19" y1="936.7" x2="236.19" y2="950" stroke="#000" stroke-width="2.3"/>
<line x1="267.17" y1="936.7" x2="267.17" y2="950" stroke="#000" stroke-width="2.3"/>
<line x1="298.15" y1="936.7" x2="298.15" y2="950" stroke="#000" stroke-width="2.3"/>
<line x1="329.13" y1="936.7" x2="329.13" y2="950" stroke="#000" stroke-width="2.3"/>
<line x1="360.11" y1="936.7" x2="360.11" y2="950" stroke="#000" stroke-width="2.3"/>
<line x1="391.09" y1="936.7" x2="391.09" y2="950" stroke="#000" stroke-width="2.3"/>
<line x1="422.07" y1="936.7" x2="422.07" y2="950" stroke="#000" stroke-width="2.3"/>
<line x1="453.05" y1="936.7" x2="453.05" y2="950" stroke="#000" stroke-width="2.3"/>
<line x1="484.03" y1="936.7" x2="484.03" y2="950" stroke="#000" stroke-width="2.3"/>
<line x1="515.01" y1="936.7" x2="515.01" y2="950" stroke="#000" stroke-width="2.3"/>
<line x1="545.98" y1="936.7" x2="545.98" y2="950" stroke="#000" stroke-width="2.3"/>
<line x1="576.96" y1="936.7" x2="576.96" y2="950" stroke="#000" stroke-width="2.3"/>
<line x1="607.94" y1="936.7" x2="607.94" y2="950" stroke="#000" stroke-width="2.3"/>
<line x1="638.92" y1="936.7" x2="638.92" y2="950" stroke="#000" stroke-width="2.3"/>
<line x1="669.9" y1="936.7" x2="669.9" y2="950" stroke="#000" stroke-width="2.3"/>
<line x1="700.88" y1="936.7" x2="700.88" y2="950" stroke="#000" stroke-width="2.3"/>
<line x1="731.86" y1="936.7" x2="731.86" y2="950" stroke="#000" stroke-width="2.3"/>
<line x1="762.84" y1="936.7" x2="762.84" y2="950" stroke="#000" stroke-width="2.3"/>
<line x1="793.82" y1="936.7" x2="793.82" y2="950" stroke="#000" stroke-width="2.3"/>
<line x1="824.79" y1="936.7" x2="824.79" y2="950" stroke="#000" stroke-width="2.3"/>
<line x1="855.77" y1="936.7" x2="855.77" y2="950" stroke="#000" stroke-width="2.3"/>
<line x1="886.75" y1="936.7" x2="886.75" y2="950" stroke="#000" stroke-width="2.3"/>
<line x1="917.73" y1="936.7" x2="917.73" y2="950" stroke="#000" stroke-width="2.3"/>
<line x1="948.71" y1="936.7" x2="948.71" y2="950" stroke="#000" stroke-width="2.3"/>
<line x1="979.69" y1="936.7" x2="979.69" y2="950" stroke="#000" stroke-width="2.3"/>
<line x1="1010.67" y1="936.7" x2="1010.67" y2="950" stroke="#000" stroke-width="2.3"/>
<line x1="1041.65" y1="936.7" x2="1041.65" y2="950" stroke="#000" stroke-width="2.3"/>
<line x1="1072.63" y1="936.7" x2="1072.63" y2="950" stroke="#000" stroke-width="2.3"/>
<line x1="1103.61" y1="936.7" x2="1103.61" y2="950" stroke="#000" stroke-width="2.3"/>
<line x1="1134.58" y1="936.7" x2="1134.58" y2="950" stroke="#000" stroke-width="2.3"/>
<line x1="1165.56" y1="936.7" x2="1165.56" y2="950" stroke="#000" stroke-width="2.3"/>
<line x1="1196.54" y1="936.7" x2="1196.54" y2="950" stroke="#000" stroke-width="2.3"/>
<line x1="1227.52" y1="936.7" x2="1227.52" y2="950" stroke="#000" stroke-width="2.3"/>
<line x1="1258.5" y1="936.7" x2="1258.5" y2="950" stroke="#000" stroke-width="2.3"/>
<text x="98.5" y="989" class="xt" >1980</text>
<text x="249.5" y="989" class="xt" >1985</text>
<text x="400" y="989" class="xt" >1990</text>
<text x="549.6" y="989" class="xt" >1995</text>
<text x="701.6" y="989" class="xt" >2000</text>
<text x="851.6" y="989" class="xt" >2005</text>
<text x="1006.6" y="989" class="xt" >2010</text>
<text x="1154.2" y="989" class="xt" >2015</text>
<text x="1244.9" y="989" class="xt" >2018</text>
<text class="ax" transform="translate(31.8,758.8) rotate(-90)" text-anchor="middle">month</text>
<text x="703.3" y="1036.4" class="ax" text-anchor="middle">year</text>
<text class="par" x="664.1" y="1068.3">（</text><text class="cap" x="695.2" y="1069.2">e</text><text class="par" x="715.7" y="1068.3">）</text>
<g shape-rendering="crispEdges">
<rect x="1298.2" y="569" width="47.4" height="12.71" fill="#ff0000"/>
<rect x="1298.2" y="581.21" width="47.4" height="12.71" fill="#f20505"/>
<rect x="1298.2" y="593.41" width="47.4" height="12.71" fill="#e40a0a"/>
<rect x="1298.2" y="605.62" width="47.4" height="12.71" fill="#d70f0f"/>
<rect x="1298.2" y="617.83" width="47.4" height="12.71" fill="#ca1313"/>
<rect x="1298.2" y="630.03" width="47.4" height="12.71" fill="#bc1818"/>
<rect x="1298.2" y="642.24" width="47.4" height="12.71" fill="#af1d1d"/>
<rect x="1298.2" y="654.45" width="47.4" height="12.71" fill="#a22020"/>
<rect x="1298.2" y="666.65" width="47.4" height="12.71" fill="#942323"/>
<rect x="1298.2" y="678.86" width="47.4" height="12.71" fill="#872727"/>
<rect x="1298.2" y="691.07" width="47.4" height="12.71" fill="#792a2a"/>
<rect x="1298.2" y="703.27" width="47.4" height="12.71" fill="#6c2e2e"/>
<rect x="1298.2" y="715.48" width="47.4" height="12.71" fill="#5f3131"/>
<rect x="1298.2" y="727.69" width="47.4" height="12.71" fill="#513838"/>
<rect x="1298.2" y="739.89" width="47.4" height="12.71" fill="#444444"/>
<rect x="1298.2" y="752.1" width="47.4" height="12.71" fill="#444444"/>
<rect x="1298.2" y="764.31" width="47.4" height="12.71" fill="#3c5454"/>
<rect x="1298.2" y="776.51" width="47.4" height="12.71" fill="#3a6262"/>
<rect x="1298.2" y="788.72" width="47.4" height="12.71" fill="#387070"/>
<rect x="1298.2" y="800.93" width="47.4" height="12.71" fill="#377e7e"/>
<rect x="1298.2" y="813.13" width="47.4" height="12.71" fill="#368b8b"/>
<rect x="1298.2" y="825.34" width="47.4" height="12.71" fill="#359898"/>
<rect x="1298.2" y="837.55" width="47.4" height="12.71" fill="#34a5a5"/>
<rect x="1298.2" y="849.75" width="47.4" height="12.71" fill="#34b3b3"/>
<rect x="1298.2" y="861.96" width="47.4" height="12.71" fill="#33bfbf"/>
<rect x="1298.2" y="874.17" width="47.4" height="12.71" fill="#32cccc"/>
<rect x="1298.2" y="886.37" width="47.4" height="12.71" fill="#32d9d9"/>
<rect x="1298.2" y="898.58" width="47.4" height="12.71" fill="#31e6e6"/>
<rect x="1298.2" y="910.79" width="47.4" height="12.71" fill="#31f2f2"/>
<rect x="1298.2" y="922.99" width="47.4" height="12.71" fill="#30ffff"/>
</g>
<rect x="1298.2" y="569" width="47.4" height="366.2" fill="none" stroke="#000" stroke-width="2.4"/>
<line x1="1345.6" y1="569" x2="1358" y2="569" stroke="#000" stroke-width="2.2"/>
<text x="1366" y="575.9" class="cb" >4.160</text>
<line x1="1345.6" y1="642.24" x2="1358" y2="642.24" stroke="#000" stroke-width="2.2"/>
<text x="1366" y="649.14" class="cb" >2.864</text>
<line x1="1345.6" y1="715.48" x2="1358" y2="715.48" stroke="#000" stroke-width="2.2"/>
<text x="1366" y="722.38" class="cb" >1.568</text>
<line x1="1345.6" y1="788.72" x2="1358" y2="788.72" stroke="#000" stroke-width="2.2"/>
<text x="1366" y="795.62" class="cb" >0.2720</text>
<line x1="1345.6" y1="861.96" x2="1358" y2="861.96" stroke="#000" stroke-width="2.2"/>
<text x="1366" y="868.86" class="cb" >-1.024</text>
<line x1="1345.6" y1="935.2" x2="1358" y2="935.2" stroke="#000" stroke-width="2.2"/>
<text x="1366" y="942.1" class="cb" >-2.320</text>
<g shape-rendering="crispEdges">
<rect x="79" y="1116" width="30.95" height="27.6" fill="#396d6d"/>
<rect x="109.35" y="1116" width="30.95" height="27.6" fill="#33b8b8"/>
<rect x="139.71" y="1116" width="30.95" height="27.6" fill="#444444"/>
<rect x="170.06" y="1116" width="30.95" height="27.6" fill="#444444"/>
<rect x="200.42" y="1116" width="30.95" height="27.6" fill="#396d6d"/>
<rect x="230.77" y="1116" width="30.95" height="27.6" fill="#359393"/>
<rect x="261.12" y="1116" width="30.95" height="27.6" fill="#33b8b8"/>
<rect x="291.48" y="1116" width="30.95" height="27.6" fill="#33b8b8"/>
<rect x="321.83" y="1116" width="30.95" height="27.6" fill="#33b8b8"/>
<rect x="352.18" y="1116" width="30.95" height="27.6" fill="#359393"/>
<rect x="382.54" y="1116" width="30.95" height="27.6" fill="#359393"/>
<rect x="412.89" y="1116" width="30.95" height="27.6" fill="#692e2e"/>
<rect x="443.25" y="1116" width="30.95" height="27.6" fill="#396d6d"/>
<rect x="473.6" y="1116" width="30.95" height="27.6" fill="#359393"/>
<rect x="503.95" y="1116" width="30.95" height="27.6" fill="#5a3232"/>
<rect x="534.31" y="1116" width="30.95" height="27.6" fill="#33b8b8"/>
<rect x="564.66" y="1116" width="30.95" height="27.6" fill="#34a5a5"/>
<rect x="595.02" y="1116" width="30.95" height="27.6" fill="#444444"/>
<rect x="625.37" y="1116" width="30.95" height="27.6" fill="#359393"/>
<rect x="655.72" y="1116" width="30.95" height="27.6" fill="#33b8b8"/>
<rect x="686.08" y="1116" width="30.95" height="27.6" fill="#34a5a5"/>
<rect x="716.43" y="1116" width="30.95" height="27.6" fill="#396d6d"/>
<rect x="746.78" y="1116" width="30.95" height="27.6" fill="#e10b0b"/>
<rect x="777.14" y="1116" width="30.95" height="27.6" fill="#33b8b8"/>
<rect x="807.49" y="1116" width="30.95" height="27.6" fill="#359393"/>
<rect x="837.85" y="1116" width="30.95" height="27.6" fill="#3e4d4d"/>
<rect x="868.2" y="1116" width="30.95" height="27.6" fill="#33b8b8"/>
<rect x="898.55" y="1116" width="30.95" height="27.6" fill="#444444"/>
<rect x="928.91" y="1116" width="30.95" height="27.6" fill="#33b8b8"/>
<rect x="959.26" y="1116" width="30.95" height="27.6" fill="#359393"/>
<rect x="989.62" y="1116" width="30.95" height="27.6" fill="#752c2c"/>
<rect x="1019.97" y="1116" width="30.95" height="27.6" fill="#34a5a5"/>
<rect x="1050.32" y="1116" width="30.95" height="27.6" fill="#444444"/>
<rect x="1080.68" y="1116" width="30.95" height="27.6" fill="#5a3232"/>
<rect x="1111.03" y="1116" width="30.95" height="27.6" fill="#3e4d4d"/>
<rect x="1141.38" y="1116" width="30.95" height="27.6" fill="#ff0000"/>
<rect x="1171.74" y="1116" width="30.95" height="27.6" fill="#359393"/>
<rect x="1202.09" y="1116" width="30.95" height="27.6" fill="#396d6d"/>
<rect x="1232.45" y="1116" width="30.95" height="27.6" fill="#3e4d4d"/>
<rect x="79" y="1143" width="30.95" height="27.6" fill="#33b8b8"/>
<rect x="109.35" y="1143" width="30.95" height="27.6" fill="#444444"/>
<rect x="139.71" y="1143" width="30.95" height="27.6" fill="#692e2e"/>
<rect x="170.06" y="1143" width="30.95" height="27.6" fill="#359393"/>
<rect x="200.42" y="1143" width="30.95" height="27.6" fill="#34a5a5"/>
<rect x="230.77" y="1143" width="30.95" height="27.6" fill="#3e4d4d"/>
<rect x="261.12" y="1143" width="30.95" height="27.6" fill="#3e4d4d"/>
<rect x="291.48" y="1143" width="30.95" height="27.6" fill="#4f3939"/>
<rect x="321.83" y="1143" width="30.95" height="27.6" fill="#33b8b8"/>
<rect x="352.18" y="1143" width="30.95" height="27.6" fill="#33b8b8"/>
<rect x="382.54" y="1143" width="30.95" height="27.6" fill="#444444"/>
<rect x="412.89" y="1143" width="30.95" height="27.6" fill="#3e4d4d"/>
<rect x="443.25" y="1143" width="30.95" height="27.6" fill="#33b8b8"/>
<rect x="473.6" y="1143" width="30.95" height="27.6" fill="#359393"/>
<rect x="503.95" y="1143" width="30.95" height="27.6" fill="#34a5a5"/>
<rect x="534.31" y="1143" width="30.95" height="27.6" fill="#359393"/>
<rect x="564.66" y="1143" width="30.95" height="27.6" fill="#33b8b8"/>
<rect x="595.02" y="1143" width="30.95" height="27.6" fill="#34a5a5"/>
<rect x="625.37" y="1143" width="30.95" height="27.6" fill="#359393"/>
<rect x="655.72" y="1143" width="30.95" height="27.6" fill="#396d6d"/>
<rect x="686.08" y="1143" width="30.95" height="27.6" fill="#33b8b8"/>
<rect x="716.43" y="1143" width="30.95" height="27.6" fill="#396d6d"/>
<rect x="746.78" y="1143" width="30.95" height="27.6" fill="#34a5a5"/>
<rect x="777.14" y="1143" width="30.95" height="27.6" fill="#32dcdc"/>
<rect x="807.49" y="1143" width="30.95" height="27.6" fill="#3e4d4d"/>
<rect x="837.85" y="1143" width="30.95" height="27.6" fill="#359393"/>
<rect x="868.2" y="1143" width="30.95" height="27.6" fill="#802929"/>
<rect x="898.55" y="1143" width="30.95" height="27.6" fill="#33b8b8"/>
<rect x="928.91" y="1143" width="30.95" height="27.6" fill="#4f3939"/>
<rect x="959.26" y="1143" width="30.95" height="27.6" fill="#34a5a5"/>
<rect x="989.62" y="1143" width="30.95" height="27.6" fill="#33b8b8"/>
<rect x="1019.97" y="1143" width="30.95" height="27.6" fill="#33b8b8"/>
<rect x="1050.32" y="1143" width="30.95" height="27.6" fill="#5a3232"/>
<rect x="1080.68" y="1143" width="30.95" height="27.6" fill="#444444"/>
<rect x="1111.03" y="1143" width="30.95" height="27.6" fill="#5a3232"/>
<rect x="1141.38" y="1143" width="30.95" height="27.6" fill="#ff0000"/>
<rect x="1171.74" y="1143" width="30.95" height="27.6" fill="#4f3939"/>
<rect x="1202.09" y="1143" width="30.95" height="27.6" fill="#396d6d"/>
<rect x="1232.45" y="1143" width="30.95" height="27.6" fill="#4f3939"/>
<rect x="79" y="1170" width="30.95" height="27.6" fill="#444444"/>
<rect x="109.35" y="1170" width="30.95" height="27.6" fill="#444444"/>
<rect x="139.71" y="1170" width="30.95" height="27.6" fill="#396d6d"/>
<rect x="170.06" y="1170" width="30.95" height="27.6" fill="#3e4d4d"/>
<rect x="200.42" y="1170" width="30.95" height="27.6" fill="#396d6d"/>
<rect x="230.77" y="1170" width="30.95" height="27.6" fill="#396d6d"/>
<rect x="261.12" y="1170" width="30.95" height="27.6" fill="#396d6d"/>
<rect x="291.48" y="1170" width="30.95" height="27.6" fill="#444444"/>
<rect x="321.83" y="1170" width="30.95" height="27.6" fill="#359393"/>
<rect x="352.18" y="1170" width="30.95" height="27.6" fill="#359393"/>
<rect x="382.54" y="1170" width="30.95" height="27.6" fill="#444444"/>
<rect x="412.89" y="1170" width="30.95" height="27.6" fill="#34a5a5"/>
<rect x="443.25" y="1170" width="30.95" height="27.6" fill="#33b8b8"/>
<rect x="473.6" y="1170" width="30.95" height="27.6" fill="#396d6d"/>
<rect x="503.95" y="1170" width="30.95" height="27.6" fill="#3b5959"/>
<rect x="534.31" y="1170" width="30.95" height="27.6" fill="#444444"/>
<rect x="564.66" y="1170" width="30.95" height="27.6" fill="#33b8b8"/>
<rect x="595.02" y="1170" width="30.95" height="27.6" fill="#444444"/>
<rect x="625.37" y="1170" width="30.95" height="27.6" fill="#33b8b8"/>
<rect x="655.72" y="1170" width="30.95" height="27.6" fill="#444444"/>
<rect x="686.08" y="1170" width="30.95" height="27.6" fill="#b41b1b"/>
<rect x="716.43" y="1170" width="30.95" height="27.6" fill="#4f3939"/>
<rect x="746.78" y="1170" width="30.95" height="27.6" fill="#e10b0b"/>
<rect x="777.14" y="1170" width="30.95" height="27.6" fill="#34a5a5"/>
<rect x="807.49" y="1170" width="30.95" height="27.6" fill="#33b8b8"/>
<rect x="837.85" y="1170" width="30.95" height="27.6" fill="#359393"/>
<rect x="868.2" y="1170" width="30.95" height="27.6" fill="#33b8b8"/>
<rect x="898.55" y="1170" width="30.95" height="27.6" fill="#33b8b8"/>
<rect x="928.91" y="1170" width="30.95" height="27.6" fill="#3e4d4d"/>
<rect x="959.26" y="1170" width="30.95" height="27.6" fill="#34a5a5"/>
<rect x="989.62" y="1170" width="30.95" height="27.6" fill="#33b8b8"/>
<rect x="1019.97" y="1170" width="30.95" height="27.6" fill="#444444"/>
<rect x="1050.32" y="1170" width="30.95" height="27.6" fill="#359393"/>
<rect x="1080.68" y="1170" width="30.95" height="27.6" fill="#33b8b8"/>
<rect x="1111.03" y="1170" width="30.95" height="27.6" fill="#33b8b8"/>
<rect x="1141.38" y="1170" width="30.95" height="27.6" fill="#c71414"/>
<rect x="1171.74" y="1170" width="30.95" height="27.6" fill="#359393"/>
<rect x="1202.09" y="1170" width="30.95" height="27.6" fill="#33b8b8"/>
<rect x="1232.45" y="1170" width="30.95" height="27.6" fill="#692e2e"/>
<rect x="79" y="1197" width="30.95" height="27.6" fill="#5a3232"/>
<rect x="109.35" y="1197" width="30.95" height="27.6" fill="#444444"/>
<rect x="139.71" y="1197" width="30.95" height="27.6" fill="#444444"/>
<rect x="170.06" y="1197" width="30.95" height="27.6" fill="#444444"/>
<rect x="200.42" y="1197" width="30.95" height="27.6" fill="#359393"/>
<rect x="230.77" y="1197" width="30.95" height="27.6" fill="#3e4d4d"/>
<rect x="261.12" y="1197" width="30.95" height="27.6" fill="#396d6d"/>
<rect x="291.48" y="1197" width="30.95" height="27.6" fill="#396d6d"/>
<rect x="321.83" y="1197" width="30.95" height="27.6" fill="#359393"/>
<rect x="352.18" y="1197" width="30.95" height="27.6" fill="#359393"/>
<rect x="382.54" y="1197" width="30.95" height="27.6" fill="#359393"/>
<rect x="412.89" y="1197" width="30.95" height="27.6" fill="#31eded"/>
<rect x="443.25" y="1197" width="30.95" height="27.6" fill="#3b5959"/>
<rect x="473.6" y="1197" width="30.95" height="27.6" fill="#b41b1b"/>
<rect x="503.95" y="1197" width="30.95" height="27.6" fill="#33b8b8"/>
<rect x="534.31" y="1197" width="30.95" height="27.6" fill="#396d6d"/>
<rect x="564.66" y="1197" width="30.95" height="27.6" fill="#33b8b8"/>
<rect x="595.02" y="1197" width="30.95" height="27.6" fill="#396d6d"/>
<rect x="625.37" y="1197" width="30.95" height="27.6" fill="#396d6d"/>
<rect x="655.72" y="1197" width="30.95" height="27.6" fill="#359393"/>
<rect x="686.08" y="1197" width="30.95" height="27.6" fill="#34a5a5"/>
<rect x="716.43" y="1197" width="30.95" height="27.6" fill="#32dcdc"/>
<rect x="746.78" y="1197" width="30.95" height="27.6" fill="#32dcdc"/>
<rect x="777.14" y="1197" width="30.95" height="27.6" fill="#c71414"/>
<rect x="807.49" y="1197" width="30.95" height="27.6" fill="#359393"/>
<rect x="837.85" y="1197" width="30.95" height="27.6" fill="#32dcdc"/>
<rect x="868.2" y="1197" width="30.95" height="27.6" fill="#396d6d"/>
<rect x="898.55" y="1197" width="30.95" height="27.6" fill="#396d6d"/>
<rect x="928.91" y="1197" width="30.95" height="27.6" fill="#444444"/>
<rect x="959.26" y="1197" width="30.95" height="27.6" fill="#33b8b8"/>
<rect x="989.62" y="1197" width="30.95" height="27.6" fill="#4f3939"/>
<rect x="1019.97" y="1197" width="30.95" height="27.6" fill="#359393"/>
<rect x="1050.32" y="1197" width="30.95" height="27.6" fill="#444444"/>
<rect x="1080.68" y="1197" width="30.95" height="27.6" fill="#3e4d4d"/>
<rect x="1111.03" y="1197" width="30.95" height="27.6" fill="#359393"/>
<rect x="1141.38" y="1197" width="30.95" height="27.6" fill="#4f3939"/>
<rect x="1171.74" y="1197" width="30.95" height="27.6" fill="#359393"/>
<rect x="1202.09" y="1197" width="30.95" height="27.6" fill="#e10b0b"/>
<rect x="1232.45" y="1197" width="30.95" height="27.6" fill="#34a5a5"/>
<rect x="79" y="1224" width="30.95" height="27.6" fill="#752c2c"/>
<rect x="109.35" y="1224" width="30.95" height="27.6" fill="#34a5a5"/>
<rect x="139.71" y="1224" width="30.95" height="27.6" fill="#802929"/>
<rect x="170.06" y="1224" width="30.95" height="27.6" fill="#396d6d"/>
<rect x="200.42" y="1224" width="30.95" height="27.6" fill="#396d6d"/>
<rect x="230.77" y="1224" width="30.95" height="27.6" fill="#3b5959"/>
<rect x="261.12" y="1224" width="30.95" height="27.6" fill="#378080"/>
<rect x="291.48" y="1224" width="30.95" height="27.6" fill="#359393"/>
<rect x="321.83" y="1224" width="30.95" height="27.6" fill="#4f3939"/>
<rect x="352.18" y="1224" width="30.95" height="27.6" fill="#359393"/>
<rect x="382.54" y="1224" width="30.95" height="27.6" fill="#32dcdc"/>
<rect x="412.89" y="1224" width="30.95" height="27.6" fill="#396d6d"/>
<rect x="443.25" y="1224" width="30.95" height="27.6" fill="#32dcdc"/>
<rect x="473.6" y="1224" width="30.95" height="27.6" fill="#359393"/>
<rect x="503.95" y="1224" width="30.95" height="27.6" fill="#ff0000"/>
<rect x="534.31" y="1224" width="30.95" height="27.6" fill="#444444"/>
<rect x="564.66" y="1224" width="30.95" height="27.6" fill="#4f3939"/>
<rect x="595.02" y="1224" width="30.95" height="27.6" fill="#359393"/>
<rect x="625.37" y="1224" width="30.95" height="27.6" fill="#32dcdc"/>
<rect x="655.72" y="1224" width="30.95" height="27.6" fill="#5a3232"/>
<rect x="686.08" y="1224" width="30.95" height="27.6" fill="#33b8b8"/>
<rect x="716.43" y="1224" width="30.95" height="27.6" fill="#359393"/>
<rect x="746.78" y="1224" width="30.95" height="27.6" fill="#752c2c"/>
<rect x="777.14" y="1224" width="30.95" height="27.6" fill="#34a5a5"/>
<rect x="807.49" y="1224" width="30.95" height="27.6" fill="#33b8b8"/>
<rect x="837.85" y="1224" width="30.95" height="27.6" fill="#359393"/>
<rect x="868.2" y="1224" width="30.95" height="27.6" fill="#396d6d"/>
<rect x="898.55" y="1224" width="30.95" height="27.6" fill="#3b5959"/>
<rect x="928.91" y="1224" width="30.95" height="27.6" fill="#359393"/>
<rect x="959.26" y="1224" width="30.95" height="27.6" fill="#32dcdc"/>
<rect x="989.62" y="1224" width="30.95" height="27.6" fill="#3b5959"/>
<rect x="1019.97" y="1224" width="30.95" height="27.6" fill="#32dcdc"/>
<rect x="1050.32" y="1224" width="30.95" height="27.6" fill="#33b8b8"/>
<rect x="1080.68" y="1224" width="30.95" height="27.6" fill="#692e2e"/>
<rect x="1111.03" y="1224" width="30.95" height="27.6" fill="#444444"/>
<rect x="1141.38" y="1224" width="30.95" height="27.6" fill="#3b5959"/>
<rect x="1171.74" y="1224" width="30.95" height="27.6" fill="#4f3939"/>
<rect x="1202.09" y="1224" width="30.95" height="27.6" fill="#396d6d"/>
<rect x="1232.45" y="1224" width="30.95" height="27.6" fill="#359393"/>
<rect x="79" y="1251" width="30.95" height="27.6" fill="#444444"/>
<rect x="109.35" y="1251" width="30.95" height="27.6" fill="#444444"/>
<rect x="139.71" y="1251" width="30.95" height="27.6" fill="#33b8b8"/>
<rect x="170.06" y="1251" width="30.95" height="27.6" fill="#359393"/>
<rect x="200.42" y="1251" width="30.95" height="27.6" fill="#33b8b8"/>
<rect x="230.77" y="1251" width="30.95" height="27.6" fill="#359393"/>
<rect x="261.12" y="1251" width="30.95" height="27.6" fill="#444444"/>
<rect x="291.48" y="1251" width="30.95" height="27.6" fill="#692e2e"/>
<rect x="321.83" y="1251" width="30.95" height="27.6" fill="#359393"/>
<rect x="352.18" y="1251" width="30.95" height="27.6" fill="#34a5a5"/>
<rect x="382.54" y="1251" width="30.95" height="27.6" fill="#34a5a5"/>
<rect x="412.89" y="1251" width="30.95" height="27.6" fill="#3b5959"/>
<rect x="443.25" y="1251" width="30.95" height="27.6" fill="#396d6d"/>
<rect x="473.6" y="1251" width="30.95" height="27.6" fill="#359393"/>
<rect x="503.95" y="1251" width="30.95" height="27.6" fill="#444444"/>
<rect x="534.31" y="1251" width="30.95" height="27.6" fill="#33b8b8"/>
<rect x="564.66" y="1251" width="30.95" height="27.6" fill="#3e4d4d"/>
<rect x="595.02" y="1251" width="30.95" height="27.6" fill="#c71414"/>
<rect x="625.37" y="1251" width="30.95" height="27.6" fill="#359393"/>
<rect x="655.72" y="1251" width="30.95" height="27.6" fill="#752c2c"/>
<rect x="686.08" y="1251" width="30.95" height="27.6" fill="#378080"/>
<rect x="716.43" y="1251" width="30.95" height="27.6" fill="#396d6d"/>
<rect x="746.78" y="1251" width="30.95" height="27.6" fill="#444444"/>
<rect x="777.14" y="1251" width="30.95" height="27.6" fill="#32dcdc"/>
<rect x="807.49" y="1251" width="30.95" height="27.6" fill="#d21010"/>
<rect x="837.85" y="1251" width="30.95" height="27.6" fill="#33b8b8"/>
<rect x="868.2" y="1251" width="30.95" height="27.6" fill="#c71414"/>
<rect x="898.55" y="1251" width="30.95" height="27.6" fill="#32dcdc"/>
<rect x="928.91" y="1251" width="30.95" height="27.6" fill="#34a5a5"/>
<rect x="959.26" y="1251" width="30.95" height="27.6" fill="#396d6d"/>
<rect x="989.62" y="1251" width="30.95" height="27.6" fill="#32dcdc"/>
<rect x="1019.97" y="1251" width="30.95" height="27.6" fill="#33b8b8"/>
<rect x="1050.32" y="1251" width="30.95" height="27.6" fill="#396d6d"/>
<rect x="1080.68" y="1251" width="30.95" height="27.6" fill="#34a5a5"/>
<rect x="1111.03" y="1251" width="30.95" height="27.6" fill="#359393"/>
<rect x="1141.38" y="1251" width="30.95" height="27.6" fill="#396d6d"/>
<rect x="1171.74" y="1251" width="30.95" height="27.6" fill="#3b5959"/>
<rect x="1202.09" y="1251" width="30.95" height="27.6" fill="#444444"/>
<rect x="1232.45" y="1251" width="30.95" height="27.6" fill="#3b5959"/>
<rect x="79" y="1278" width="30.95" height="27.6" fill="#33b8b8"/>
<rect x="109.35" y="1278" width="30.95" height="27.6" fill="#396d6d"/>
<rect x="139.71" y="1278" width="30.95" height="27.6" fill="#34a5a5"/>
<rect x="170.06" y="1278" width="30.95" height="27.6" fill="#692e2e"/>
<rect x="200.42" y="1278" width="30.95" height="27.6" fill="#33b8b8"/>
<rect x="230.77" y="1278" width="30.95" height="27.6" fill="#33b8b8"/>
<rect x="261.12" y="1278" width="30.95" height="27.6" fill="#359393"/>
<rect x="291.48" y="1278" width="30.95" height="27.6" fill="#396d6d"/>
<rect x="321.83" y="1278" width="30.95" height="27.6" fill="#32dcdc"/>
<rect x="352.18" y="1278" width="30.95" height="27.6" fill="#33b8b8"/>
<rect x="382.54" y="1278" width="30.95" height="27.6" fill="#32dcdc"/>
<rect x="412.89" y="1278" width="30.95" height="27.6" fill="#33b8b8"/>
<rect x="443.25" y="1278" width="30.95" height="27.6" fill="#359393"/>
<rect x="473.6" y="1278" width="30.95" height="27.6" fill="#444444"/>
<rect x="503.95" y="1278" width="30.95" height="27.6" fill="#5a3232"/>
<rect x="534.31" y="1278" width="30.95" height="27.6" fill="#5a3232"/>
<rect x="564.66" y="1278" width="30.95" height="27.6" fill="#396d6d"/>
<rect x="595.02" y="1278" width="30.95" height="27.6" fill="#359393"/>
<rect x="625.37" y="1278" width="30.95" height="27.6" fill="#444444"/>
<rect x="655.72" y="1278" width="30.95" height="27.6" fill="#3b5959"/>
<rect x="686.08" y="1278" width="30.95" height="27.6" fill="#33b8b8"/>
<rect x="716.43" y="1278" width="30.95" height="27.6" fill="#444444"/>
<rect x="746.78" y="1278" width="30.95" height="27.6" fill="#802929"/>
<rect x="777.14" y="1278" width="30.95" height="27.6" fill="#34a5a5"/>
<rect x="807.49" y="1278" width="30.95" height="27.6" fill="#33b8b8"/>
<rect x="837.85" y="1278" width="30.95" height="27.6" fill="#ec0707"/>
<rect x="868.2" y="1278" width="30.95" height="27.6" fill="#396d6d"/>
<rect x="898.55" y="1278" width="30.95" height="27.6" fill="#3e4d4d"/>
<rect x="928.91" y="1278" width="30.95" height="27.6" fill="#4f3939"/>
<rect x="959.26" y="1278" width="30.95" height="27.6" fill="#359393"/>
<rect x="989.62" y="1278" width="30.95" height="27.6" fill="#692e2e"/>
<rect x="1019.97" y="1278" width="30.95" height="27.6" fill="#33b8b8"/>
<rect x="1050.32" y="1278" width="30.95" height="27.6" fill="#4f3939"/>
<rect x="1080.68" y="1278" width="30.95" height="27.6" fill="#34a5a5"/>
<rect x="1111.03" y="1278" width="30.95" height="27.6" fill="#692e2e"/>
<rect x="1141.38" y="1278" width="30.95" height="27.6" fill="#3b5959"/>
<rect x="1171.74" y="1278" width="30.95" height="27.6" fill="#3b5959"/>
<rect x="1202.09" y="1278" width="30.95" height="27.6" fill="#444444"/>
<rect x="1232.45" y="1278" width="30.95" height="27.6" fill="#33b8b8"/>
<rect x="79" y="1305" width="30.95" height="27.6" fill="#359393"/>
<rect x="109.35" y="1305" width="30.95" height="27.6" fill="#3b5959"/>
<rect x="139.71" y="1305" width="30.95" height="27.6" fill="#3e4d4d"/>
<rect x="170.06" y="1305" width="30.95" height="27.6" fill="#396d6d"/>
<rect x="200.42" y="1305" width="30.95" height="27.6" fill="#396d6d"/>
<rect x="230.77" y="1305" width="30.95" height="27.6" fill="#3e4d4d"/>
<rect x="261.12" y="1305" width="30.95" height="27.6" fill="#444444"/>
<rect x="291.48" y="1305" width="30.95" height="27.6" fill="#5a3232"/>
<rect x="321.83" y="1305" width="30.95" height="27.6" fill="#32dcdc"/>
<rect x="352.18" y="1305" width="30.95" height="27.6" fill="#3b5959"/>
<rect x="382.54" y="1305" width="30.95" height="27.6" fill="#444444"/>
<rect x="412.89" y="1305" width="30.95" height="27.6" fill="#32dcdc"/>
<rect x="443.25" y="1305" width="30.95" height="27.6" fill="#3e4d4d"/>
<rect x="473.6" y="1305" width="30.95" height="27.6" fill="#444444"/>
<rect x="503.95" y="1305" width="30.95" height="27.6" fill="#444444"/>
<rect x="534.31" y="1305" width="30.95" height="27.6" fill="#32dcdc"/>
<rect x="564.66" y="1305" width="30.95" height="27.6" fill="#444444"/>
<rect x="595.02" y="1305" width="30.95" height="27.6" fill="#396d6d"/>
<rect x="625.37" y="1305" width="30.95" height="27.6" fill="#444444"/>
<rect x="655.72" y="1305" width="30.95" height="27.6" fill="#34a5a5"/>
<rect x="686.08" y="1305" width="30.95" height="27.6" fill="#692e2e"/>
<rect x="716.43" y="1305" width="30.95" height="27.6" fill="#33b8b8"/>
<rect x="746.78" y="1305" width="30.95" height="27.6" fill="#33b8b8"/>
<rect x="777.14" y="1305" width="30.95" height="27.6" fill="#3e4d4d"/>
<rect x="807.49" y="1305" width="30.95" height="27.6" fill="#692e2e"/>
<rect x="837.85" y="1305" width="30.95" height="27.6" fill="#396d6d"/>
<rect x="868.2" y="1305" width="30.95" height="27.6" fill="#396d6d"/>
<rect x="898.55" y="1305" width="30.95" height="27.6" fill="#32dcdc"/>
<rect x="928.91" y="1305" width="30.95" height="27.6" fill="#33b8b8"/>
<rect x="959.26" y="1305" width="30.95" height="27.6" fill="#33b8b8"/>
<rect x="989.62" y="1305" width="30.95" height="27.6" fill="#32d1d1"/>
<rect x="1019.97" y="1305" width="30.95" height="27.6" fill="#396d6d"/>
<rect x="1050.32" y="1305" width="30.95" height="27.6" fill="#33b8b8"/>
<rect x="1080.68" y="1305" width="30.95" height="27.6" fill="#3e4d4d"/>
<rect x="1111.03" y="1305" width="30.95" height="27.6" fill="#396d6d"/>
<rect x="1141.38" y="1305" width="30.95" height="27.6" fill="#e10b0b"/>
<rect x="1171.74" y="1305" width="30.95" height="27.6" fill="#c71414"/>
<rect x="1202.09" y="1305" width="30.95" height="27.6" fill="#34a5a5"/>
<rect x="1232.45" y="1305" width="30.95" height="27.6" fill="#32dcdc"/>
<rect x="79" y="1332" width="30.95" height="27.6" fill="#3b5959"/>
<rect x="109.35" y="1332" width="30.95" height="27.6" fill="#752c2c"/>
<rect x="139.71" y="1332" width="30.95" height="27.6" fill="#396d6d"/>
<rect x="170.06" y="1332" width="30.95" height="27.6" fill="#359393"/>
<rect x="200.42" y="1332" width="30.95" height="27.6" fill="#802929"/>
<rect x="230.77" y="1332" width="30.95" height="27.6" fill="#34a5a5"/>
<rect x="261.12" y="1332" width="30.95" height="27.6" fill="#444444"/>
<rect x="291.48" y="1332" width="30.95" height="27.6" fill="#359393"/>
<rect x="321.83" y="1332" width="30.95" height="27.6" fill="#34a5a5"/>
<rect x="352.18" y="1332" width="30.95" height="27.6" fill="#3b5959"/>
<rect x="382.54" y="1332" width="30.95" height="27.6" fill="#359393"/>
<rect x="412.89" y="1332" width="30.95" height="27.6" fill="#359393"/>
<rect x="443.25" y="1332" width="30.95" height="27.6" fill="#33b8b8"/>
<rect x="473.6" y="1332" width="30.95" height="27.6" fill="#396d6d"/>
<rect x="503.95" y="1332" width="30.95" height="27.6" fill="#34a5a5"/>
<rect x="534.31" y="1332" width="30.95" height="27.6" fill="#396d6d"/>
<rect x="564.66" y="1332" width="30.95" height="27.6" fill="#396d6d"/>
<rect x="595.02" y="1332" width="30.95" height="27.6" fill="#802929"/>
<rect x="625.37" y="1332" width="30.95" height="27.6" fill="#3b5959"/>
<rect x="655.72" y="1332" width="30.95" height="27.6" fill="#444444"/>
<rect x="686.08" y="1332" width="30.95" height="27.6" fill="#8f2525"/>
<rect x="716.43" y="1332" width="30.95" height="27.6" fill="#359393"/>
<rect x="746.78" y="1332" width="30.95" height="27.6" fill="#396d6d"/>
<rect x="777.14" y="1332" width="30.95" height="27.6" fill="#359393"/>
<rect x="807.49" y="1332" width="30.95" height="27.6" fill="#396d6d"/>
<rect x="837.85" y="1332" width="30.95" height="27.6" fill="#32dcdc"/>
<rect x="868.2" y="1332" width="30.95" height="27.6" fill="#444444"/>
<rect x="898.55" y="1332" width="30.95" height="27.6" fill="#396d6d"/>
<rect x="928.91" y="1332" width="30.95" height="27.6" fill="#32dcdc"/>
<rect x="959.26" y="1332" width="30.95" height="27.6" fill="#34a5a5"/>
<rect x="989.62" y="1332" width="30.95" height="27.6" fill="#3e4d4d"/>
<rect x="1019.97" y="1332" width="30.95" height="27.6" fill="#30f8f8"/>
<rect x="1050.32" y="1332" width="30.95" height="27.6" fill="#c71414"/>
<rect x="1080.68" y="1332" width="30.95" height="27.6" fill="#396d6d"/>
<rect x="1111.03" y="1332" width="30.95" height="27.6" fill="#396d6d"/>
<rect x="1141.38" y="1332" width="30.95" height="27.6" fill="#33b8b8"/>
<rect x="1171.74" y="1332" width="30.95" height="27.6" fill="#b41b1b"/>
<rect x="1202.09" y="1332" width="30.95" height="27.6" fill="#32dcdc"/>
<rect x="1232.45" y="1332" width="30.95" height="27.6" fill="#359393"/>
<rect x="79" y="1359" width="30.95" height="27.6" fill="#359393"/>
<rect x="109.35" y="1359" width="30.95" height="27.6" fill="#3b5959"/>
<rect x="139.71" y="1359" width="30.95" height="27.6" fill="#34a5a5"/>
<rect x="170.06" y="1359" width="30.95" height="27.6" fill="#444444"/>
<rect x="200.42" y="1359" width="30.95" height="27.6" fill="#33b8b8"/>
<rect x="230.77" y="1359" width="30.95" height="27.6" fill="#3e4d4d"/>
<rect x="261.12" y="1359" width="30.95" height="27.6" fill="#32dcdc"/>
<rect x="291.48" y="1359" width="30.95" height="27.6" fill="#359393"/>
<rect x="321.83" y="1359" width="30.95" height="27.6" fill="#3b5959"/>
<rect x="352.18" y="1359" width="30.95" height="27.6" fill="#359393"/>
<rect x="382.54" y="1359" width="30.95" height="27.6" fill="#a91e1e"/>
<rect x="412.89" y="1359" width="30.95" height="27.6" fill="#359393"/>
<rect x="443.25" y="1359" width="30.95" height="27.6" fill="#396d6d"/>
<rect x="473.6" y="1359" width="30.95" height="27.6" fill="#33b8b8"/>
<rect x="503.95" y="1359" width="30.95" height="27.6" fill="#3e4d4d"/>
<rect x="534.31" y="1359" width="30.95" height="27.6" fill="#33b8b8"/>
<rect x="564.66" y="1359" width="30.95" height="27.6" fill="#752c2c"/>
<rect x="595.02" y="1359" width="30.95" height="27.6" fill="#802929"/>
<rect x="625.37" y="1359" width="30.95" height="27.6" fill="#444444"/>
<rect x="655.72" y="1359" width="30.95" height="27.6" fill="#30f8f8"/>
<rect x="686.08" y="1359" width="30.95" height="27.6" fill="#3b5959"/>
<rect x="716.43" y="1359" width="30.95" height="27.6" fill="#444444"/>
<rect x="746.78" y="1359" width="30.95" height="27.6" fill="#359393"/>
<rect x="777.14" y="1359" width="30.95" height="27.6" fill="#359393"/>
<rect x="807.49" y="1359" width="30.95" height="27.6" fill="#33b8b8"/>
<rect x="837.85" y="1359" width="30.95" height="27.6" fill="#5a3232"/>
<rect x="868.2" y="1359" width="30.95" height="27.6" fill="#33b8b8"/>
<rect x="898.55" y="1359" width="30.95" height="27.6" fill="#396d6d"/>
<rect x="928.91" y="1359" width="30.95" height="27.6" fill="#396d6d"/>
<rect x="959.26" y="1359" width="30.95" height="27.6" fill="#444444"/>
<rect x="989.62" y="1359" width="30.95" height="27.6" fill="#30ffff"/>
<rect x="1019.97" y="1359" width="30.95" height="27.6" fill="#396d6d"/>
<rect x="1050.32" y="1359" width="30.95" height="27.6" fill="#692e2e"/>
<rect x="1080.68" y="1359" width="30.95" height="27.6" fill="#4f3939"/>
<rect x="1111.03" y="1359" width="30.95" height="27.6" fill="#444444"/>
<rect x="1141.38" y="1359" width="30.95" height="27.6" fill="#33b8b8"/>
<rect x="1171.74" y="1359" width="30.95" height="27.6" fill="#33b8b8"/>
<rect x="1202.09" y="1359" width="30.95" height="27.6" fill="#8f2525"/>
<rect x="1232.45" y="1359" width="30.95" height="27.6" fill="#4f3939"/>
<rect x="79" y="1386" width="30.95" height="27.6" fill="#3e4d4d"/>
<rect x="109.35" y="1386" width="30.95" height="27.6" fill="#444444"/>
<rect x="139.71" y="1386" width="30.95" height="27.6" fill="#692e2e"/>
<rect x="170.06" y="1386" width="30.95" height="27.6" fill="#e10b0b"/>
<rect x="200.42" y="1386" width="30.95" height="27.6" fill="#34a5a5"/>
<rect x="230.77" y="1386" width="30.95" height="27.6" fill="#c71414"/>
<rect x="261.12" y="1386" width="30.95" height="27.6" fill="#3b5959"/>
<rect x="291.48" y="1386" width="30.95" height="27.6" fill="#359393"/>
<rect x="321.83" y="1386" width="30.95" height="27.6" fill="#396d6d"/>
<rect x="352.18" y="1386" width="30.95" height="27.6" fill="#396d6d"/>
<rect x="382.54" y="1386" width="30.95" height="27.6" fill="#c71414"/>
<rect x="412.89" y="1386" width="30.95" height="27.6" fill="#359393"/>
<rect x="443.25" y="1386" width="30.95" height="27.6" fill="#712c2c"/>
<rect x="473.6" y="1386" width="30.95" height="27.6" fill="#692e2e"/>
<rect x="503.95" y="1386" width="30.95" height="27.6" fill="#396d6d"/>
<rect x="534.31" y="1386" width="30.95" height="27.6" fill="#3e4d4d"/>
<rect x="564.66" y="1386" width="30.95" height="27.6" fill="#33b8b8"/>
<rect x="595.02" y="1386" width="30.95" height="27.6" fill="#396d6d"/>
<rect x="625.37" y="1386" width="30.95" height="27.6" fill="#359393"/>
<rect x="655.72" y="1386" width="30.95" height="27.6" fill="#32dcdc"/>
<rect x="686.08" y="1386" width="30.95" height="27.6" fill="#34a5a5"/>
<rect x="716.43" y="1386" width="30.95" height="27.6" fill="#396d6d"/>
<rect x="746.78" y="1386" width="30.95" height="27.6" fill="#359393"/>
<rect x="777.14" y="1386" width="30.95" height="27.6" fill="#359393"/>
<rect x="807.49" y="1386" width="30.95" height="27.6" fill="#359393"/>
<rect x="837.85" y="1386" width="30.95" height="27.6" fill="#34a5a5"/>
<rect x="868.2" y="1386" width="30.95" height="27.6" fill="#444444"/>
<rect x="898.55" y="1386" width="30.95" height="27.6" fill="#3b5959"/>
<rect x="928.91" y="1386" width="30.95" height="27.6" fill="#5a3232"/>
<rect x="959.26" y="1386" width="30.95" height="27.6" fill="#32dcdc"/>
<rect x="989.62" y="1386" width="30.95" height="27.6" fill="#32dcdc"/>
<rect x="1019.97" y="1386" width="30.95" height="27.6" fill="#34a5a5"/>
<rect x="1050.32" y="1386" width="30.95" height="27.6" fill="#34a5a5"/>
<rect x="1080.68" y="1386" width="30.95" height="27.6" fill="#33b8b8"/>
<rect x="1111.03" y="1386" width="30.95" height="27.6" fill="#396d6d"/>
<rect x="1141.38" y="1386" width="30.95" height="27.6" fill="#396d6d"/>
<rect x="1171.74" y="1386" width="30.95" height="27.6" fill="#34a5a5"/>
<rect x="1202.09" y="1386" width="30.95" height="27.6" fill="#396d6d"/>
<rect x="1232.45" y="1386" width="30.95" height="27.6" fill="#33b8b8"/>
<rect x="79" y="1413" width="30.95" height="27.6" fill="#3e4d4d"/>
<rect x="109.35" y="1413" width="30.95" height="27.6" fill="#33b8b8"/>
<rect x="139.71" y="1413" width="30.95" height="27.6" fill="#396d6d"/>
<rect x="170.06" y="1413" width="30.95" height="27.6" fill="#3e4d4d"/>
<rect x="200.42" y="1413" width="30.95" height="27.6" fill="#33b8b8"/>
<rect x="230.77" y="1413" width="30.95" height="27.6" fill="#34a5a5"/>
<rect x="261.12" y="1413" width="30.95" height="27.6" fill="#33b8b8"/>
<rect x="291.48" y="1413" width="30.95" height="27.6" fill="#32dcdc"/>
<rect x="321.83" y="1413" width="30.95" height="27.6" fill="#33b8b8"/>
<rect x="352.18" y="1413" width="30.95" height="27.6" fill="#692e2e"/>
<rect x="382.54" y="1413" width="30.95" height="27.6" fill="#692e2e"/>
<rect x="412.89" y="1413" width="30.95" height="27.6" fill="#396d6d"/>
<rect x="443.25" y="1413" width="30.95" height="27.6" fill="#444444"/>
<rect x="473.6" y="1413" width="30.95" height="27.6" fill="#3b5959"/>
<rect x="503.95" y="1413" width="30.95" height="27.6" fill="#32dcdc"/>
<rect x="534.31" y="1413" width="30.95" height="27.6" fill="#692e2e"/>
<rect x="564.66" y="1413" width="30.95" height="27.6" fill="#396d6d"/>
<rect x="595.02" y="1413" width="30.95" height="27.6" fill="#5a3232"/>
<rect x="625.37" y="1413" width="30.95" height="27.6" fill="#4f3939"/>
<rect x="655.72" y="1413" width="30.95" height="27.6" fill="#34a5a5"/>
<rect x="686.08" y="1413" width="30.95" height="27.6" fill="#33b8b8"/>
<rect x="716.43" y="1413" width="30.95" height="27.6" fill="#444444"/>
<rect x="746.78" y="1413" width="30.95" height="27.6" fill="#396d6d"/>
<rect x="777.14" y="1413" width="30.95" height="27.6" fill="#396d6d"/>
<rect x="807.49" y="1413" width="30.95" height="27.6" fill="#396d6d"/>
<rect x="837.85" y="1413" width="30.95" height="27.6" fill="#359393"/>
<rect x="868.2" y="1413" width="30.95" height="27.6" fill="#32dcdc"/>
<rect x="898.55" y="1413" width="30.95" height="27.6" fill="#3e4d4d"/>
<rect x="928.91" y="1413" width="30.95" height="27.6" fill="#3b5959"/>
<rect x="959.26" y="1413" width="30.95" height="27.6" fill="#33b8b8"/>
<rect x="989.62" y="1413" width="30.95" height="27.6" fill="#c71414"/>
<rect x="1019.97" y="1413" width="30.95" height="27.6" fill="#33b8b8"/>
<rect x="1050.32" y="1413" width="30.95" height="27.6" fill="#5a3232"/>
<rect x="1080.68" y="1413" width="30.95" height="27.6" fill="#33b8b8"/>
<rect x="1111.03" y="1413" width="30.95" height="27.6" fill="#32dcdc"/>
<rect x="1141.38" y="1413" width="30.95" height="27.6" fill="#396d6d"/>
<rect x="1171.74" y="1413" width="30.95" height="27.6" fill="#5a3232"/>
<rect x="1202.09" y="1413" width="30.95" height="27.6" fill="#3b5959"/>
<rect x="1232.45" y="1413" width="30.95" height="27.6" fill="#d21010"/>
</g>
<rect x="78.8" y="1115.9" width="1184" height="324.5" fill="none" stroke="#000" stroke-width="2.4"/>
<text x="58" y="1138" class="ytf" >12</text>
<text x="58" y="1165" class="ytf" >11</text>
<text x="58" y="1192" class="ytf" >10</text>
<text x="58" y="1219" class="ytf" >9</text>
<text x="58" y="1246" class="ytf" >8</text>
<text x="58" y="1273" class="ytf" >7</text>
<text x="58" y="1300" class="ytf" >6</text>
<text x="58" y="1327" class="ytf" >5</text>
<text x="58" y="1354" class="ytf" >4</text>
<text x="58" y="1381" class="ytf" >3</text>
<text x="58" y="1408" class="ytf" >2</text>
<text x="58" y="1435" class="ytf" >1</text>
<text x="101.2" y="1502" class="xt" >1980</text>
<text x="251.5" y="1502" class="xt" >1985</text>
<text x="401.8" y="1502" class="xt" >1990</text>
<text x="550.1" y="1502" class="xt" >1995</text>
<text x="701.6" y="1502" class="xt" >2000</text>
<text x="850.4" y="1502" class="xt" >2005</text>
<text x="1004.4" y="1502" class="xt" >2010</text>
<text x="1151.7" y="1502" class="xt" >2015</text>
<text x="1241.4" y="1502" class="xt" >2018</text>
<text class="ax" transform="translate(31.0,1288.7) rotate(-90)" text-anchor="middle">month</text>
<text x="677.5" y="1550.7" class="ax" text-anchor="middle">year</text>
<text class="par" x="634.2" y="1578.2">（</text><text class="cap" x="666.0" y="1579.2">f</text><text class="par" x="682.4" y="1578.2">）</text>
<g shape-rendering="crispEdges">
<rect x="1298.2" y="1113.2" width="45" height="11.51" fill="#ff0000"/>
<rect x="1298.2" y="1124.21" width="45" height="11.51" fill="#f20505"/>
<rect x="1298.2" y="1135.23" width="45" height="11.51" fill="#e40a0a"/>
<rect x="1298.2" y="1146.24" width="45" height="11.51" fill="#d70f0f"/>
<rect x="1298.2" y="1157.25" width="45" height="11.51" fill="#ca1313"/>
<rect x="1298.2" y="1168.27" width="45" height="11.51" fill="#bc1818"/>
<rect x="1298.2" y="1179.28" width="45" height="11.51" fill="#af1d1d"/>
<rect x="1298.2" y="1190.29" width="45" height="11.51" fill="#a22020"/>
<rect x="1298.2" y="1201.31" width="45" height="11.51" fill="#942323"/>
<rect x="1298.2" y="1212.32" width="45" height="11.51" fill="#872727"/>
<rect x="1298.2" y="1223.33" width="45" height="11.51" fill="#792a2a"/>
<rect x="1298.2" y="1234.35" width="45" height="11.51" fill="#6c2e2e"/>
<rect x="1298.2" y="1245.36" width="45" height="11.51" fill="#5f3131"/>
<rect x="1298.2" y="1256.37" width="45" height="11.51" fill="#513838"/>
<rect x="1298.2" y="1267.39" width="45" height="11.51" fill="#444444"/>
<rect x="1298.2" y="1278.4" width="45" height="11.51" fill="#444444"/>
<rect x="1298.2" y="1289.41" width="45" height="11.51" fill="#3c5454"/>
<rect x="1298.2" y="1300.43" width="45" height="11.51" fill="#3a6262"/>
<rect x="1298.2" y="1311.44" width="45" height="11.51" fill="#387070"/>
<rect x="1298.2" y="1322.45" width="45" height="11.51" fill="#377e7e"/>
<rect x="1298.2" y="1333.47" width="45" height="11.51" fill="#368b8b"/>
<rect x="1298.2" y="1344.48" width="45" height="11.51" fill="#359898"/>
<rect x="1298.2" y="1355.49" width="45" height="11.51" fill="#34a5a5"/>
<rect x="1298.2" y="1366.51" width="45" height="11.51" fill="#34b3b3"/>
<rect x="1298.2" y="1377.52" width="45" height="11.51" fill="#33bfbf"/>
<rect x="1298.2" y="1388.53" width="45" height="11.51" fill="#32cccc"/>
<rect x="1298.2" y="1399.55" width="45" height="11.51" fill="#32d9d9"/>
<rect x="1298.2" y="1410.56" width="45" height="11.51" fill="#31e6e6"/>
<rect x="1298.2" y="1421.57" width="45" height="11.51" fill="#31f2f2"/>
<rect x="1298.2" y="1432.59" width="45" height="11.51" fill="#30ffff"/>
</g>
<rect x="1298.2" y="1113.2" width="45" height="330.4" fill="none" stroke="#000" stroke-width="2.4"/>
<text x="1362" y="1119.1" class="cbf" >3.380</text>
<text x="1362" y="1185.34" class="cbf" >2.288</text>
<text x="1362" y="1251.58" class="cbf" >1.196</text>
<text x="1362" y="1317.82" class="cbf" >0.1040</text>
<text x="1362" y="1384.06" class="cbf" >-0.9880</text>
<text x="1362" y="1450.3" class="cbf" >-2.080</text>
</svg></body></html>
